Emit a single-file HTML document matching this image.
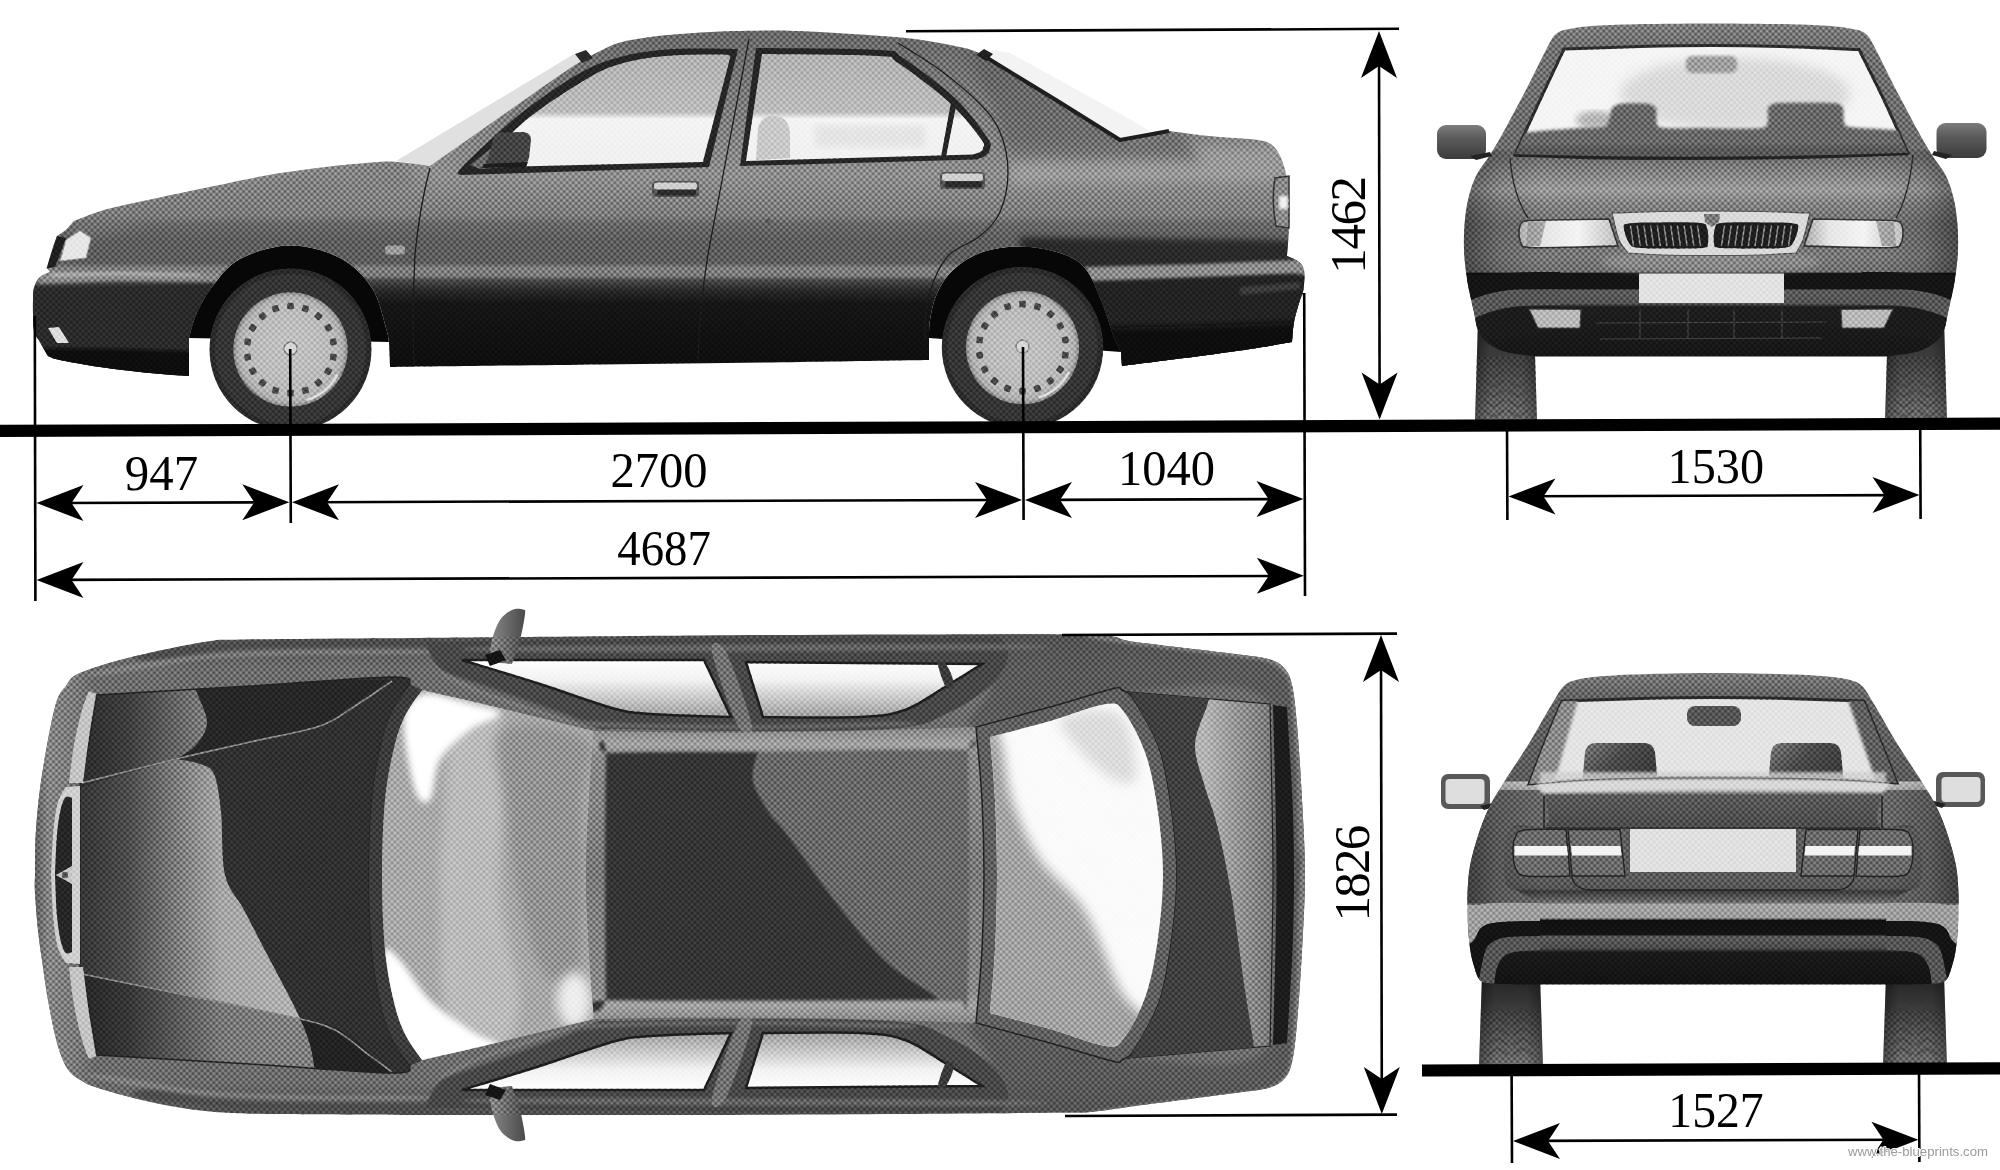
<!DOCTYPE html>
<html lang="en">
<head>
<meta charset="utf-8">
<title>Lancia Kappa blueprint</title>
<style>
html,body{margin:0;padding:0;background:#fff;overflow:hidden}
svg{display:block}
text{font-family:"Liberation Serif","DejaVu Serif",serif;fill:#000}
.wm{font-family:"Liberation Sans","DejaVu Sans",sans-serif;fill:#9a9a9a}
.ln{stroke:#000;stroke-width:2.6;fill:none}
</style>
</head>
<body>
<svg width="2000" height="1170" viewBox="0 0 2000 1170">
<defs>
<clipPath id="sBodyClip"><path d="M34,330C32.8,323 32.9,307.3 33,300C33.1,292.7 33.3,289.8 34.5,286C35.7,282.2 37.4,279.3 40,277C42.6,274.7 48.3,272.8 50,272L47,268C47.8,265 50.3,255.3 52,250C53.7,244.7 56.2,238.3 57,236L66,230L74,221C79,219.2 91.7,213.5 104,210C116.3,206.5 132,203.5 148,200C164,196.5 179.8,193.2 200,189C220.2,184.8 247.3,178.8 269,175C290.7,171.2 314.6,168.4 330,166.5C345.4,164.6 351.8,164.3 361.5,163.5C371.2,162.7 379.6,161.5 388,161.5C396.4,161.5 405,162.8 412,163.5C419,164.2 427,165.6 430,166C436.7,161.3 455,148.5 470,138C485,127.5 505,113.5 520,103C535,92.5 550,81.8 560,75C570,68.2 573.3,66 580,62C586.7,58 593.3,54.2 600,51C606.7,47.8 611.7,44.8 620,42.5C628.3,40.2 640,38.4 650,37C660,35.6 668.3,34.9 680,34C691.7,33.1 708.3,32 720,31.5C731.7,31 740,31 750,30.8C760,30.6 768.3,30.3 780,30.5C791.7,30.7 806.7,31.3 820,32C833.3,32.7 846.7,33.6 860,34.5C873.3,35.4 889.2,36.5 900,37.5C910.8,38.5 915.8,39.1 925,40.5C934.2,41.9 945.8,43.8 955,46C964.2,48.2 969.2,48.3 980,53.5C990.8,58.7 1007.3,69.2 1020,77C1032.7,84.8 1044.3,92.5 1056,100C1067.7,107.5 1079.3,115.3 1090,122C1100.7,128.7 1115,137 1120,140C1124.2,139.3 1136.8,137.5 1145,136C1153.2,134.5 1165,131.8 1169,131C1173.3,131.6 1186.5,133.5 1195,134.5C1203.5,135.5 1209.5,136.1 1220,137C1230.5,137.9 1249.3,138.7 1258,140C1266.7,141.3 1268.3,142.3 1272,145C1275.7,147.7 1277.7,151.2 1280,156C1282.3,160.8 1284.5,166.7 1286,174C1287.5,181.3 1288.5,191 1289,200C1289.5,209 1289.3,218.7 1289,228C1288.7,237.3 1287.3,251.3 1287,256C1288.5,256.7 1293.5,258.5 1296,260C1298.5,261.5 1300.6,262.7 1302,265C1303.4,267.3 1304.3,269.5 1304.5,274C1304.7,278.5 1303.8,287.7 1303,292C1302.2,296.3 1301.5,295 1300,300C1298.5,305 1295.3,315 1294,322C1292.7,329 1292.3,338.7 1292,342C1285,343.2 1265.3,346.7 1250,349C1234.7,351.3 1215,354 1200,356C1185,358 1173,359.3 1160,361C1147,362.7 1128.3,365.2 1122,366L1121,352C1119.7,349 1116.3,342.7 1113,334C1109.7,325.3 1105.7,311 1101,300C1096.3,289 1091.8,275.8 1085,268C1078.2,260.2 1070.8,256.6 1060,253C1049.2,249.4 1033.3,246.5 1020,246.5C1006.7,246.5 991.5,248.8 980,253C968.5,257.2 958.3,264.8 951,272C943.7,279.2 939.5,288 936,296C932.5,304 931.2,313 930,320C928.8,327 929.2,335 929,338L929,360C907.5,360.3 854.8,361.2 800,362C745.2,362.8 668.3,363.7 600,364.5C531.7,365.3 425,366.6 390,367L389,342C388.5,339.7 388.8,337 386,328C383.2,319 379.7,299.7 372,288C364.3,276.3 353.7,265.1 340,258C326.3,250.9 306.7,245.3 290,245.5C273.3,245.7 253,252.1 240,259C227,265.9 219.3,277.7 212,287C204.7,296.3 199.8,306.5 196,315C192.2,323.5 190.2,334.2 189,338L189,376C182.5,375.5 164.8,374.5 150,373C135.2,371.5 115,369.2 100,367C85,364.8 68.7,361.8 60,360C51.3,358.2 50,356.7 48,356C46.7,353.7 42.3,346.3 40,342C37.7,337.7 35.2,337 34,330Z"/></clipPath><linearGradient id="sBodyG" x1="0" y1="30" x2="0" y2="376" gradientUnits="userSpaceOnUse"><stop offset="0" stop-color="#686868"/><stop offset="0.087" stop-color="#707070"/><stop offset="0.39" stop-color="#8a8a8a"/><stop offset="0.42" stop-color="#8e8e8e"/><stop offset="0.535" stop-color="#7c7c7c"/><stop offset="0.56" stop-color="#686868"/><stop offset="0.607" stop-color="#5e5e5e"/><stop offset="0.673" stop-color="#5e5e5e"/><stop offset="0.688" stop-color="#7e7e7e"/><stop offset="0.711" stop-color="#7a7a7a"/><stop offset="0.7225" stop-color="#4a4a4a"/><stop offset="0.751" stop-color="#2a2a2a"/><stop offset="0.79" stop-color="#151515"/><stop offset="1" stop-color="#0c0c0c"/></linearGradient><filter id="b3" x="-10%" y="-10%" width="120%" height="120%"><feGaussianBlur stdDeviation="3"/></filter><filter id="b2" x="-10%" y="-10%" width="120%" height="120%"><feGaussianBlur stdDeviation="1.6"/></filter><filter id="b6" x="-20%" y="-20%" width="140%" height="140%"><feGaussianBlur stdDeviation="6"/></filter><linearGradient id="sGlassG" x1="0" y1="54" x2="0" y2="170" gradientUnits="userSpaceOnUse"><stop offset="0" stop-color="#b2b2b2"/><stop offset="0.5" stop-color="#bcbcbc"/><stop offset="0.56" stop-color="#f4f4f4"/><stop offset="1" stop-color="#f0f0f0"/></linearGradient><radialGradient id="sHub" cx="0.5" cy="0.5" r="0.5" gradientUnits="objectBoundingBox"><stop offset="0" stop-color="#c2c2c2"/><stop offset="0.8" stop-color="#bababa"/><stop offset="0.93" stop-color="#adadad"/><stop offset="1" stop-color="#888"/></radialGradient><linearGradient id="fTire" x1="0" y1="0" x2="0" y2="1" gradientUnits="objectBoundingBox"><stop offset="0" stop-color="#282828"/><stop offset="0.35" stop-color="#3c3c3c"/><stop offset="0.75" stop-color="#585858"/><stop offset="1" stop-color="#6c6c6c"/></linearGradient><linearGradient id="fTireH" x1="0" y1="0" x2="1" y2="0" gradientUnits="objectBoundingBox"><stop offset="0" stop-color="#000" stop-opacity="0.35"/><stop offset="0.25" stop-color="#000" stop-opacity="0"/><stop offset="0.75" stop-color="#000" stop-opacity="0"/><stop offset="1" stop-color="#000" stop-opacity="0.3"/></linearGradient><clipPath id="fBodyClip"><path d="M1711,23.5C1690.7,23.5 1668.5,23.7 1650,24C1631.5,24.3 1613,24.8 1600,25.5C1587,26.2 1579.3,27.1 1572,28.5C1564.7,29.9 1560.5,30.1 1556,34C1551.5,37.9 1549.3,44 1545,52C1540.7,60 1536.8,68.8 1530,82C1523.2,95.2 1510.7,118.8 1504,131C1497.3,143.2 1494.7,147.5 1490,155C1485.3,162.5 1479.7,168.5 1476,176C1472.3,183.5 1469.9,191.8 1468,200C1466.1,208.2 1465.2,216.7 1464.5,225C1463.8,233.3 1463.8,242.2 1464,250C1464.2,257.8 1465.2,265.3 1466,272C1466.8,278.7 1467.7,283.3 1469,290C1470.3,296.7 1472.5,305.3 1474,312C1475.5,318.7 1475.7,324.8 1478,330C1480.3,335.2 1483.3,339.3 1488,343C1492.7,346.7 1498,349.8 1506,352C1514,354.2 1531,355.8 1536,356.5L1886,356.5C1891,355.8 1908,354.2 1916,352C1924,349.8 1929.3,346.7 1934,343C1938.7,339.3 1941.7,335.2 1944,330C1946.3,324.8 1946.5,318.7 1948,312C1949.5,305.3 1951.7,296.7 1953,290C1954.3,283.3 1955.2,278.7 1956,272C1956.8,265.3 1957.8,257.8 1958,250C1958.2,242.2 1958.2,233.3 1957.5,225C1956.8,216.7 1955.9,208.2 1954,200C1952.1,191.8 1949.7,183.5 1946,176C1942.3,168.5 1936.7,162.5 1932,155C1927.3,147.5 1924.7,143.2 1918,131C1911.3,118.8 1898.8,95.2 1892,82C1885.2,68.8 1881.3,60 1877,52C1872.7,44 1870.5,37.9 1866,34C1861.5,30.1 1857.3,29.9 1850,28.5C1842.7,27.1 1835,26.2 1822,25.5C1809,24.8 1790.5,24.3 1772,24C1753.5,23.7 1731.3,23.5 1711,23.5Z"/></clipPath><linearGradient id="fBodyG" x1="0" y1="23" x2="0" y2="357" gradientUnits="userSpaceOnUse"><stop offset="0" stop-color="#7e7e7e"/><stop offset="0.06" stop-color="#727272"/><stop offset="0.4" stop-color="#6c6c6c"/><stop offset="0.44" stop-color="#808080"/><stop offset="0.5" stop-color="#9a9a9a"/><stop offset="0.54" stop-color="#848484"/><stop offset="0.6" stop-color="#727272"/><stop offset="0.7" stop-color="#787878"/><stop offset="0.745" stop-color="#707070"/><stop offset="0.75" stop-color="#141414"/><stop offset="0.795" stop-color="#141414"/><stop offset="0.8" stop-color="#5a5a5a"/><stop offset="0.84" stop-color="#545454"/><stop offset="0.85" stop-color="#1e1e1e"/><stop offset="1" stop-color="#161616"/></linearGradient><linearGradient id="fSideSh" x1="1464" y1="0" x2="1958" y2="0" gradientUnits="userSpaceOnUse"><stop offset="0" stop-color="#000" stop-opacity="0.38"/><stop offset="0.07" stop-color="#000" stop-opacity="0.12"/><stop offset="0.16" stop-color="#000" stop-opacity="0"/><stop offset="0.84" stop-color="#000" stop-opacity="0"/><stop offset="0.93" stop-color="#000" stop-opacity="0.12"/><stop offset="1" stop-color="#000" stop-opacity="0.38"/></linearGradient><clipPath id="fGlassClip"><path d="M1564,49C1576.7,48.6 1615.5,47.1 1640,46.5C1664.5,45.9 1687.3,45.5 1711,45.5C1734.7,45.5 1757.3,45.8 1782,46.5C1806.7,47.2 1846.2,49 1859,49.5C1863.2,57.9 1875.8,82.8 1884,100C1892.2,117.2 1904,144.2 1908,153C1893.3,153.7 1852.8,156.1 1820,157C1787.2,157.9 1747.7,158.3 1711,158.5C1674.3,158.7 1632.7,158.7 1600,158C1567.3,157.3 1529.2,155.1 1515,154.5C1519.2,145.4 1531.8,117.6 1540,100C1548.2,82.4 1560,57.5 1564,49Z"/></clipPath><linearGradient id="fHL" x1="0" y1="0" x2="1" y2="0" gradientUnits="objectBoundingBox"><stop offset="0" stop-color="#aaa"/><stop offset="0.25" stop-color="#e6e6e6"/><stop offset="0.6" stop-color="#f4f4f4"/><stop offset="1" stop-color="#c0c0c0"/></linearGradient><linearGradient id="fMir" x1="0" y1="0" x2="0" y2="1" gradientUnits="objectBoundingBox"><stop offset="0" stop-color="#7c7c7c"/><stop offset="0.4" stop-color="#5a5a5a"/><stop offset="1" stop-color="#3c3c3c"/></linearGradient><linearGradient id="tMir" x1="0" y1="0" x2="1" y2="0" gradientUnits="objectBoundingBox"><stop offset="0" stop-color="#8a8a8a"/><stop offset="0.5" stop-color="#6a6a6a"/><stop offset="1" stop-color="#4a4a4a"/></linearGradient><clipPath id="tBodyClip"><path d="M35,875C35.2,864.7 34.8,846.7 36,830C37.2,813.3 38.8,795.5 42,775C45.2,754.5 51,721.8 55,707C59,692.2 61.8,691.7 66,686C70.2,680.3 69,677.8 80,673C91,668.2 110.8,662.2 132,657C153.2,651.8 188.2,644.4 207,641.5C225.8,638.6 209.5,640.1 245,639.5C280.5,638.9 374.2,638.4 420,638C465.8,637.6 473.3,637.4 520,637C566.7,636.6 636.7,635.9 700,635.5C763.3,635.1 835,634.6 900,634.5C965,634.4 1050.8,633.8 1090,635C1129.2,636.2 1110.8,638.8 1135,642C1159.2,645.2 1212.8,651.2 1235,654C1257.2,656.8 1259.8,656.7 1268,659C1276.2,661.3 1280,663.7 1284,668C1288,672.3 1289.8,675.5 1292,685C1294.2,694.5 1295.3,705.8 1297,725C1298.7,744.2 1300.7,775 1302,800C1303.3,825 1305,850 1305,875C1305,900 1303.3,925.3 1302,950C1300.7,974.7 1298.7,1004.3 1297,1023C1295.3,1041.7 1294.2,1052.7 1292,1062C1289.8,1071.3 1288,1074.7 1284,1079C1280,1083.3 1276.2,1085.7 1268,1088C1259.8,1090.3 1257.2,1090 1235,1093C1212.8,1096 1159.2,1102.8 1135,1106C1110.8,1109.2 1102.5,1110.9 1090,1112C1077.5,1113.1 1091.7,1112.2 1060,1112.5C1028.3,1112.8 960,1113.6 900,1114C840,1114.4 763.3,1114.8 700,1115C636.7,1115.2 566.7,1115 520,1115C473.3,1115 461.7,1115.2 420,1115C378.3,1114.8 304.2,1114.5 270,1114C235.8,1113.5 231.7,1113.3 215,1112C198.3,1110.7 184.2,1108.5 170,1106C155.8,1103.5 142.5,1100.2 130,1097C117.5,1093.8 103,1089.7 95,1087C87,1084.3 86.2,1083.5 82,1081C77.8,1078.5 73.3,1075.8 70,1072C66.7,1068.2 64.5,1064.2 62,1058C59.5,1051.8 57.3,1044.7 55,1035C52.7,1025.3 50.2,1012.5 48,1000C45.8,987.5 43.7,971.7 42,960C40.3,948.3 39.2,941.3 38,930C36.8,918.7 35.5,901.2 35,892C34.5,882.8 34.8,885.3 35,875Z"/></clipPath><linearGradient id="tBodyG" x1="0" y1="635" x2="0" y2="1115" gradientUnits="userSpaceOnUse"><stop offset="0" stop-color="#4c4c4c"/><stop offset="0.03" stop-color="#5e5e5e"/><stop offset="0.07" stop-color="#6c6c6c"/><stop offset="0.5" stop-color="#707070"/><stop offset="0.93" stop-color="#6c6c6c"/><stop offset="0.97" stop-color="#5e5e5e"/><stop offset="1" stop-color="#4c4c4c"/></linearGradient><linearGradient id="tBump" x1="33" y1="0" x2="95" y2="0" gradientUnits="userSpaceOnUse"><stop offset="0" stop-color="#5a5a5a"/><stop offset="0.25" stop-color="#858585"/><stop offset="0.7" stop-color="#7a7a7a"/><stop offset="1" stop-color="#6a6a6a"/></linearGradient><clipPath id="tHoodClip"><path d="M80,875C80,844.7 80,799.2 80,784C80.7,781.7 82.2,779 84,770C85.8,761 88.8,742.5 91,730C93.2,717.5 96,700.8 97,695C122.5,693.5 200.8,689 250,686C299.2,683 365.3,677.3 392,677C418.7,676.7 407,682.8 410,684C407,688.7 396.8,701.8 392,712C387.2,722.2 384.3,730.3 381,745C377.7,759.7 374,778.3 372,800C370,821.7 369,850 369,875C369,900 370,928.3 372,950C374,971.7 377.7,990.3 381,1005C384.3,1019.7 387.2,1027.8 392,1038C396.8,1048.2 407,1061.3 410,1066C407,1067.2 418.7,1073.3 392,1073C365.3,1072.7 299.2,1067 250,1064C200.8,1061 122.5,1056.5 97,1055C96,1049.2 93.2,1032.5 91,1020C88.8,1007.5 85.8,989 84,980C82.2,971 80.7,968.3 80,966C80,950.8 80,905.3 80,875Z"/></clipPath><linearGradient id="tHoodL" x1="85" y1="0" x2="300" y2="0" gradientUnits="userSpaceOnUse"><stop offset="0" stop-color="#383838"/><stop offset="0.2" stop-color="#4c4c4c"/><stop offset="0.44" stop-color="#7e7e7e"/><stop offset="0.63" stop-color="#a6a6a6"/><stop offset="1" stop-color="#b2b2b2"/></linearGradient><clipPath id="tWsClip"><path d="M382,875C382,850 383,821.2 385,800C387,778.8 390.7,762 394,748C397.3,734 400.3,725.7 405,716C409.7,706.3 419.2,694.3 422,690C435,693 471.3,701.2 500,708C528.7,714.8 578.3,727.2 594,731C593.2,742.5 590.3,776 589,800C587.7,824 586,850 586,875C586,900 587.7,926 589,950C590.3,974 593.2,1007.5 594,1019C578.3,1022.8 528.7,1035.2 500,1042C471.3,1048.8 435,1057 422,1060C419.2,1055.7 409.7,1043.7 405,1034C400.3,1024.3 397.3,1016 394,1002C390.7,988 387,971.2 385,950C383,928.8 382,900 382,875Z"/></clipPath><linearGradient id="tWinU" x1="0" y1="660" x2="0" y2="718" gradientUnits="userSpaceOnUse"><stop offset="0" stop-color="#fff"/><stop offset="0.35" stop-color="#f2f2f2"/><stop offset="1" stop-color="#9c9c9c"/></linearGradient><linearGradient id="tWinL" x1="0" y1="1090" x2="0" y2="1032" gradientUnits="userSpaceOnUse"><stop offset="0" stop-color="#fff"/><stop offset="0.35" stop-color="#f2f2f2"/><stop offset="1" stop-color="#9c9c9c"/></linearGradient><clipPath id="tRoofClip"><path d="M586,875C586,850 587.7,824 589,800C590.3,776 593.2,742.5 594,731C611.7,731.2 657.3,732.5 700,732.5C742.7,732.5 804,731.9 850,731C896,730.1 955,727.7 976,727C977,739.2 980.7,775.3 982,800C983.3,824.7 984,850 984,875C984,900 983.3,925.3 982,950C980.7,974.7 977,1010.8 976,1023C955,1022.3 896,1019.9 850,1019C804,1018.1 742.7,1017.5 700,1017.5C657.3,1017.5 611.7,1018.8 594,1019C593.2,1007.5 590.3,974 589,950C587.7,926 586,900 586,875Z"/></clipPath><linearGradient id="tRoofG" x1="0" y1="730" x2="0" y2="1020" gradientUnits="userSpaceOnUse"><stop offset="0" stop-color="#8a8a8a"/><stop offset="0.05" stop-color="#a2a2a2"/><stop offset="0.09" stop-color="#8a8a8a"/><stop offset="0.5" stop-color="#7a7a7a"/><stop offset="0.91" stop-color="#8a8a8a"/><stop offset="0.95" stop-color="#a2a2a2"/><stop offset="1" stop-color="#8a8a8a"/></linearGradient><clipPath id="tRgClip"><path d="M984,875C984,850 983.3,824.7 982,800C980.7,775.3 977,739.2 976,727C988.3,723.7 1027.3,713.3 1050,707C1072.7,700.7 1100,691.8 1112,689C1124,686.2 1118.2,688 1122,690C1125.8,692 1128.7,691 1135,701C1141.3,711 1153.8,731.5 1160,750C1166.2,768.5 1169.2,791.2 1172,812C1174.8,832.8 1177,854 1177,875C1177,896 1174.8,917.2 1172,938C1169.2,958.8 1166.2,981.5 1160,1000C1153.8,1018.5 1141.3,1039 1135,1049C1128.7,1059 1125.8,1058 1122,1060C1118.2,1062 1124,1063.8 1112,1061C1100,1058.2 1072.7,1049.3 1050,1043C1027.3,1036.7 988.3,1026.3 976,1023C977,1010.8 980.7,974.7 982,950C983.3,925.3 984,900 984,875Z"/></clipPath><clipPath id="tRgiClip"><path d="M997,875C997,850 996.2,823 995,800C993.8,777 990.8,747.5 990,737C1000,734.3 1030.7,726.5 1050,721C1069.3,715.5 1093.7,705.5 1106,704C1118.3,702.5 1117.3,703.5 1124,712C1130.7,720.5 1140.3,738.3 1146,755C1151.7,771.7 1155.2,792 1158,812C1160.8,832 1163,854 1163,875C1163,896 1160.8,918 1158,938C1155.2,958 1151.7,978.3 1146,995C1140.3,1011.7 1130.7,1029.5 1124,1038C1117.3,1046.5 1118.3,1047.5 1106,1046C1093.7,1044.5 1069.3,1034.5 1050,1029C1030.7,1023.5 1000,1015.7 990,1013C990.8,1002.5 993.8,973 995,950C996.2,927 997,900 997,875Z"/></clipPath><clipPath id="tTrClip"><path d="M1177,875C1177,854 1174.8,832.8 1172,812C1169.2,791.2 1166.2,768.5 1160,750C1153.8,731.5 1140.3,710.7 1135,701C1129.7,691.3 1129.2,693.5 1128,692C1140,693 1176.3,696 1200,698C1223.7,700 1258.3,703 1270,704C1270.3,720 1271.5,771.5 1272,800C1272.5,828.5 1273,850 1273,875C1273,900 1272.5,921.5 1272,950C1271.5,978.5 1270.3,1030 1270,1046C1258.3,1047 1223.7,1050 1200,1052C1176.3,1054 1140,1057 1128,1058C1129.2,1056.5 1129.7,1058.7 1135,1049C1140.3,1039.3 1153.8,1018.5 1160,1000C1166.2,981.5 1169.2,958.8 1172,938C1174.8,917.2 1177,896 1177,875Z"/></clipPath><linearGradient id="tTrG" x1="1205" y1="0" x2="1270" y2="0" gradientUnits="userSpaceOnUse"><stop offset="0" stop-color="#b4b4b4"/><stop offset="0.45" stop-color="#989898"/><stop offset="1" stop-color="#787878"/></linearGradient><linearGradient id="rTire" x1="0" y1="0" x2="0" y2="1" gradientUnits="objectBoundingBox"><stop offset="0" stop-color="#222"/><stop offset="0.3" stop-color="#363636"/><stop offset="0.7" stop-color="#565656"/><stop offset="1" stop-color="#6c6c6c"/></linearGradient><clipPath id="rBodyClip"><path d="M1713,673C1692,673 1668,673.5 1650,674C1632,674.5 1617,675.1 1605,676C1593,676.9 1584.8,677.8 1578,679.5C1571.2,681.2 1568.3,681.9 1564,686C1559.7,690.1 1558,694.2 1552,704C1546,713.8 1536,732 1528,745C1520,758 1510.7,771.2 1504,782C1497.3,792.8 1492.3,801 1488,810C1483.7,819 1481,826.7 1478,836C1475,845.3 1471.8,856 1470,866C1468.2,876 1467.8,886.2 1467.5,896C1467.2,905.8 1467.6,916.3 1468,925C1468.4,933.7 1469,941.2 1470,948C1471,954.8 1472.2,960.5 1474,966C1475.8,971.5 1476.7,978 1481,981C1485.3,984 1489.8,983.4 1500,984C1510.2,984.6 1535,984.4 1542,984.5L1884,984.5C1891,984.4 1915.8,984.6 1926,984C1936.2,983.4 1940.7,984 1945,981C1949.3,978 1950.2,971.5 1952,966C1953.8,960.5 1955,954.8 1956,948C1957,941.2 1957.6,933.7 1958,925C1958.4,916.3 1958.8,905.8 1958.5,896C1958.2,886.2 1957.8,876 1956,866C1954.2,856 1951,845.3 1948,836C1945,826.7 1942.3,819 1938,810C1933.7,801 1928.7,792.8 1922,782C1915.3,771.2 1906,758 1898,745C1890,732 1880,713.8 1874,704C1868,694.2 1866.3,690.1 1862,686C1857.7,681.9 1854.8,681.2 1848,679.5C1841.2,677.8 1833,676.9 1821,676C1809,675.1 1794,674.5 1776,674C1758,673.5 1734,673 1713,673Z"/></clipPath><linearGradient id="rBodyG" x1="0" y1="673" x2="0" y2="985" gradientUnits="userSpaceOnUse"><stop offset="0" stop-color="#7a7a7a"/><stop offset="0.07" stop-color="#646464"/><stop offset="0.3" stop-color="#5c5c5c"/><stop offset="0.345" stop-color="#5c5c5c"/><stop offset="0.35" stop-color="#c4c4c4"/><stop offset="0.378" stop-color="#a8a8a8"/><stop offset="0.392" stop-color="#5a5a5a"/><stop offset="0.49" stop-color="#4c4c4c"/><stop offset="0.5" stop-color="#626262"/><stop offset="0.655" stop-color="#5c5c5c"/><stop offset="0.69" stop-color="#565656"/><stop offset="0.7" stop-color="#3c3c3c"/><stop offset="0.735" stop-color="#6c6c6c"/><stop offset="0.742" stop-color="#a2a2a2"/><stop offset="0.785" stop-color="#9c9c9c"/><stop offset="0.793" stop-color="#101010"/><stop offset="0.838" stop-color="#141414"/><stop offset="0.845" stop-color="#5a5a5a"/><stop offset="0.882" stop-color="#4c4c4c"/><stop offset="0.895" stop-color="#1a1a1a"/><stop offset="1" stop-color="#121212"/></linearGradient><linearGradient id="rSideSh" x1="1467" y1="0" x2="1959" y2="0" gradientUnits="userSpaceOnUse"><stop offset="0" stop-color="#000" stop-opacity="0.4"/><stop offset="0.06" stop-color="#000" stop-opacity="0.15"/><stop offset="0.15" stop-color="#000" stop-opacity="0"/><stop offset="0.85" stop-color="#000" stop-opacity="0"/><stop offset="0.94" stop-color="#000" stop-opacity="0.15"/><stop offset="1" stop-color="#000" stop-opacity="0.4"/></linearGradient><clipPath id="rGlassClip"><path d="M1562,701C1575,700.6 1614.8,699.1 1640,698.5C1665.2,697.9 1688.7,697.5 1713,697.5C1737.3,697.5 1760.8,697.9 1786,698.5C1811.2,699.1 1851,700.6 1864,701C1866.7,707.5 1874.5,726.3 1880,740C1885.5,753.7 1894.2,775.8 1897,783C1884.2,782.2 1850.7,779.4 1820,778.5C1789.3,777.6 1748.7,777.5 1713,777.5C1677.3,777.5 1636.7,777.4 1606,778.5C1575.3,779.6 1541.8,783.1 1529,784C1531.7,777 1539.5,755.8 1545,742C1550.5,728.2 1559.2,707.8 1562,701Z"/></clipPath><linearGradient id="rHead" x1="0" y1="0" x2="1" y2="0.6" gradientUnits="objectBoundingBox"><stop offset="0" stop-color="#7a7a7a"/><stop offset="0.5" stop-color="#4a4a4a"/><stop offset="1" stop-color="#3a3a3a"/></linearGradient><pattern id="ht" patternUnits="userSpaceOnUse" width="4.2" height="4.2" patternTransform="rotate(45)"><circle cx="1.05" cy="1.05" r="1.05" fill="#000" opacity="0.34"/><circle cx="3.15" cy="3.15" r="1.05" fill="#fff" opacity="0.34"/></pattern>
<path id="ah" d="M0,0 L47,-18 L35,0 L47,18 Z" fill="#000"/>
</defs>
<rect width="2000" height="1170" fill="#fff"/>

<g id="side">
<polygon points="396,161 574,54 590,60 432,166" fill="#e0e0e0"/>
<polygon points="992,50 1010,53 1128,118 1150,131 1122,139 984,56" fill="#f3f3f3"/>
<path d="M189,338C190.2,334.2 192.2,323.5 196,315C199.8,306.5 204.7,296.3 212,287C219.3,277.7 227,265.9 240,259C253,252.1 273.3,245.7 290,245.5C306.7,245.3 326.3,250.9 340,258C353.7,265.1 364.3,276.3 372,288C379.7,299.7 383.2,319 386,328C388.8,337 388.5,339.7 389,342L189,338Z" fill="#070707" />
<path d="M929,338C929.2,335 928.8,327 930,320C931.2,313 932.5,304 936,296C939.5,288 943.7,279.2 951,272C958.3,264.8 968.5,257.2 980,253C991.5,248.8 1006.7,246.5 1020,246.5C1033.3,246.5 1049.2,249.4 1060,253C1070.8,256.6 1078.2,260.2 1085,268C1091.8,275.8 1096.3,289 1101,300C1105.7,311 1109.7,325.3 1113,334C1116.3,342.7 1119.7,349 1121,352L929,338Z" fill="#070707" />
<path d="M34,330C32.8,323 32.9,307.3 33,300C33.1,292.7 33.3,289.8 34.5,286C35.7,282.2 37.4,279.3 40,277C42.6,274.7 48.3,272.8 50,272L47,268C47.8,265 50.3,255.3 52,250C53.7,244.7 56.2,238.3 57,236L66,230L74,221C79,219.2 91.7,213.5 104,210C116.3,206.5 132,203.5 148,200C164,196.5 179.8,193.2 200,189C220.2,184.8 247.3,178.8 269,175C290.7,171.2 314.6,168.4 330,166.5C345.4,164.6 351.8,164.3 361.5,163.5C371.2,162.7 379.6,161.5 388,161.5C396.4,161.5 405,162.8 412,163.5C419,164.2 427,165.6 430,166C436.7,161.3 455,148.5 470,138C485,127.5 505,113.5 520,103C535,92.5 550,81.8 560,75C570,68.2 573.3,66 580,62C586.7,58 593.3,54.2 600,51C606.7,47.8 611.7,44.8 620,42.5C628.3,40.2 640,38.4 650,37C660,35.6 668.3,34.9 680,34C691.7,33.1 708.3,32 720,31.5C731.7,31 740,31 750,30.8C760,30.6 768.3,30.3 780,30.5C791.7,30.7 806.7,31.3 820,32C833.3,32.7 846.7,33.6 860,34.5C873.3,35.4 889.2,36.5 900,37.5C910.8,38.5 915.8,39.1 925,40.5C934.2,41.9 945.8,43.8 955,46C964.2,48.2 969.2,48.3 980,53.5C990.8,58.7 1007.3,69.2 1020,77C1032.7,84.8 1044.3,92.5 1056,100C1067.7,107.5 1079.3,115.3 1090,122C1100.7,128.7 1115,137 1120,140C1124.2,139.3 1136.8,137.5 1145,136C1153.2,134.5 1165,131.8 1169,131C1173.3,131.6 1186.5,133.5 1195,134.5C1203.5,135.5 1209.5,136.1 1220,137C1230.5,137.9 1249.3,138.7 1258,140C1266.7,141.3 1268.3,142.3 1272,145C1275.7,147.7 1277.7,151.2 1280,156C1282.3,160.8 1284.5,166.7 1286,174C1287.5,181.3 1288.5,191 1289,200C1289.5,209 1289.3,218.7 1289,228C1288.7,237.3 1287.3,251.3 1287,256C1288.5,256.7 1293.5,258.5 1296,260C1298.5,261.5 1300.6,262.7 1302,265C1303.4,267.3 1304.3,269.5 1304.5,274C1304.7,278.5 1303.8,287.7 1303,292C1302.2,296.3 1301.5,295 1300,300C1298.5,305 1295.3,315 1294,322C1292.7,329 1292.3,338.7 1292,342C1285,343.2 1265.3,346.7 1250,349C1234.7,351.3 1215,354 1200,356C1185,358 1173,359.3 1160,361C1147,362.7 1128.3,365.2 1122,366L1121,352C1119.7,349 1116.3,342.7 1113,334C1109.7,325.3 1105.7,311 1101,300C1096.3,289 1091.8,275.8 1085,268C1078.2,260.2 1070.8,256.6 1060,253C1049.2,249.4 1033.3,246.5 1020,246.5C1006.7,246.5 991.5,248.8 980,253C968.5,257.2 958.3,264.8 951,272C943.7,279.2 939.5,288 936,296C932.5,304 931.2,313 930,320C928.8,327 929.2,335 929,338L929,360C907.5,360.3 854.8,361.2 800,362C745.2,362.8 668.3,363.7 600,364.5C531.7,365.3 425,366.6 390,367L389,342C388.5,339.7 388.8,337 386,328C383.2,319 379.7,299.7 372,288C364.3,276.3 353.7,265.1 340,258C326.3,250.9 306.7,245.3 290,245.5C273.3,245.7 253,252.1 240,259C227,265.9 219.3,277.7 212,287C204.7,296.3 199.8,306.5 196,315C192.2,323.5 190.2,334.2 189,338L189,376C182.5,375.5 164.8,374.5 150,373C135.2,371.5 115,369.2 100,367C85,364.8 68.7,361.8 60,360C51.3,358.2 50,356.7 48,356C46.7,353.7 42.3,346.3 40,342C37.7,337.7 35.2,337 34,330Z" fill="url(#sBodyG)"/>
<g clip-path="url(#sBodyClip)">
<polygon points="60,222 200,186 400,156 420,185 300,200 150,222 80,240" fill="#7a7a7a" opacity="0.5" filter="url(#b6)"/>
<polygon points="28,289 120,286 222,284 222,380 28,380" fill="#2a2a2a" filter="url(#b2)"/>
<polygon points="28,348 120,349 222,352 222,380 28,380" fill="#0a0a0a" filter="url(#b2)"/>
<polygon points="44,273 120,271 222,273 222,282 120,281 36,284" fill="#8a8a8a" filter="url(#b2)"/>
<polygon points="52,273 120,272 200,274 200,276 120,275 50,277" fill="#b0b0b0" filter="url(#b2)"/>
<polygon points="1020,237 1100,238 1250,239.5 1295,241 1310,380 1020,380" fill="#2b2b2b" filter="url(#b3)"/>
<polygon points="1010,146 1280,146 1292,180 1010,184" fill="#a4a4a4" opacity="0.6" filter="url(#b6)"/>
<polygon points="1084,267 1200,264 1298,260 1306,273 1200,277 1090,281" fill="#8c8c8c" filter="url(#b2)"/>
<polygon points="1092,283 1200,279 1310,275 1310,380 1092,380" fill="#222" filter="url(#b2)"/>
<polygon points="1100,328 1200,326 1310,322 1310,380 1100,380" fill="#0c0c0c" filter="url(#b3)"/>
<polygon points="1240,287 1300,282 1300,289 1240,295" fill="#505050" opacity="0.6" filter="url(#b2)"/>
<polygon points="960,40 1130,140 1180,130 1200,160 1010,160 990,100" fill="#5e5e5e" opacity="0.6" filter="url(#b6)"/>
</g>
<path d="M460,175C460.5,173.5 453,176.2 463,166C473,155.8 500.5,129.5 520,114C539.5,98.5 563.3,82.5 580,73C596.7,63.5 606.7,60.8 620,57C633.3,53.2 646.7,51.4 660,50C673.3,48.6 687,48.7 700,48.5C713,48.3 731.7,48.9 738,49L709,167L460,175Z" fill="#262626" />
<path d="M480,167.5C487.5,159.8 507.5,135.6 525,121C542.5,106.4 569.2,89.5 585,80C600.8,70.5 606.7,68 620,64C633.3,60 648,57.6 665,56C682,54.4 711.2,54.3 722,54.5C732.8,54.7 728.7,56.6 730,57C729.8,57.8 733.5,44.5 729,62C724.5,79.5 707.3,145.3 703,162L480,167.5Z" fill="url(#sGlassG)" />
<path d="M756,48C776.7,48.3 855.5,48.3 880,50C904.5,51.7 890.5,50 903,58C915.5,66 941,84.8 955,98C969,111.2 981.2,128.5 987,137C992.8,145.5 990.3,145.8 990,149C989.7,152.2 987.3,154.2 985,156C982.7,157.8 977.5,158.9 976,159.5L740,166L756,48Z" fill="#262626" />
<path d="M762,54C781.3,54.3 855.3,54.5 878,56C900.7,57.5 886,55.2 898,63C910,70.8 936.2,90.3 950,103C963.8,115.7 975.5,131.5 981,139C986.5,146.5 983.2,145.8 983,148C982.8,150.2 981.7,150.9 980,152C978.3,153.1 974.2,154.1 973,154.5L746,161L762,54Z" fill="url(#sGlassG)" />
<polygon points="951,102 956,106 946,157 941,157" fill="#262626"/>
<path d="M756,160 L758,128 Q762,114 776,116 Q790,118 790,135 L790,158 Z" fill="#c9c9c9"/>
<rect x="815" y="125" width="110" height="22" fill="#dcdcdc" opacity="0.6" filter="url(#b3)"/>
<polygon points="470,165 494,146 520,166 480,169" fill="#6a6a6a"/>
<path d="M493,140 Q493,133 500,132.5 L524,132 Q531,133 531,140 L529,158 Q528,164 520,164.5 L488,165 Q484,163 488,158 Z" fill="#444"/>
<polygon points="484,164 528,162 526,167 482,168" fill="#1c1c1c"/>
<polygon points="575,54 586,50 593,58 582,63" fill="#2a2a2a"/>
<polygon points="976,55 984,49 993,54 986,61" fill="#222"/>
<path d="M984,56 L1056,100 L1120,140 L1169,131" stroke="#1e1e1e" stroke-width="4" fill="none" stroke-linejoin="round"/>
<path d="M430,168 Q420,205 415,254 Q412,310 414,364" stroke="#1c1c1c" stroke-width="1.3" fill="none"/>
<path d="M749,39 L708,254 Q699,310 698,362" stroke="#1c1c1c" stroke-width="1.3" fill="none"/>
<path d="M898,43C905,47.5 926.3,59.8 940,70C953.7,80.2 970,93.7 980,104C990,114.3 995.3,120.7 1000,132C1004.7,143.3 1008,158.7 1008,172C1008,185.3 1004.7,201.3 1000,212C995.3,222.7 988.3,229 980,236C971.7,243 957.7,246.7 950,254C942.3,261.3 938,270.3 934,280C930,289.7 927.5,302 926,312C924.5,322 925.2,335.3 925,340" stroke="#1c1c1c" stroke-width="1.3" fill="none"/>
<rect x="652" y="181" width="47" height="16" rx="4" fill="#555"/>
<rect x="654" y="182.5" width="43" height="7.0" rx="3" fill="#cfcfcf"/>
<rect x="657" y="189.7" width="39" height="5.88" rx="2" fill="#2c2c2c"/>
<rect x="940" y="172" width="45" height="17" rx="4" fill="#555"/>
<rect x="942" y="173.5" width="41" height="7.5" rx="3" fill="#cfcfcf"/>
<rect x="945" y="181.25" width="37" height="6.3" rx="2" fill="#2c2c2c"/>
<rect x="385" y="245.5" width="20" height="9" rx="4" fill="#9c9c9c"/>
<circle cx="768" cy="221" r="2.2" fill="#555"/>
<polygon points="57,236 66,238 55,267 46.5,268.5" fill="#1e1e1e"/>
<polygon points="80,230.5 91,238 86,258 60,261 66,240" fill="#e6e6e6" stroke="#999" stroke-width="1"/>
<polygon points="48,328 59,327 69,343 57,343" fill="#dedede"/>
<path d="M1275,178 Q1271,200 1276,226 L1289,228 L1289,176 Z" fill="#8a8a8a" stroke="#333" stroke-width="1.5"/>
<rect x="1279" y="196" width="9" height="13" fill="#f2f2f2" filter="url(#b2)"/>
<circle cx="290.5" cy="349.5" r="81" fill="#353535"/>
<circle cx="290.5" cy="349.5" r="78" fill="none" stroke="#2a2a2a" stroke-width="5"/>
<circle cx="290.5" cy="349.5" r="57.2" fill="url(#sHub)"/>
<path d="M337.4728119400949,374.4758871402094 A53.2,53.2 0 0 1 306.93970410074724,400.09620666690216" stroke="#f0f0f0" stroke-width="2.4" fill="none" opacity="0.8"/>
<rect x="287.2" y="302.7" width="6.6" height="6.6" rx="1.5" fill="#484848" transform="rotate(0 290.5 306.0)"/>
<rect x="302.1" y="305.3" width="6.6" height="6.6" rx="1.5" fill="#484848" transform="rotate(20 305.4 308.6)"/>
<rect x="315.2" y="312.9" width="6.6" height="6.6" rx="1.5" fill="#484848" transform="rotate(40 318.5 316.2)"/>
<rect x="324.9" y="324.4" width="6.6" height="6.6" rx="1.5" fill="#484848" transform="rotate(60 328.2 327.8)"/>
<rect x="330.0" y="338.6" width="6.6" height="6.6" rx="1.5" fill="#484848" transform="rotate(80 333.3 341.9)"/>
<rect x="330.0" y="353.8" width="6.6" height="6.6" rx="1.5" fill="#484848" transform="rotate(100 333.3 357.1)"/>
<rect x="324.9" y="367.9" width="6.6" height="6.6" rx="1.5" fill="#484848" transform="rotate(120 328.2 371.2)"/>
<rect x="315.2" y="379.5" width="6.6" height="6.6" rx="1.5" fill="#484848" transform="rotate(140 318.5 382.8)"/>
<rect x="302.1" y="387.1" width="6.6" height="6.6" rx="1.5" fill="#484848" transform="rotate(160 305.4 390.4)"/>
<rect x="287.2" y="389.7" width="6.6" height="6.6" rx="1.5" fill="#484848" transform="rotate(180 290.5 393.0)"/>
<rect x="272.3" y="387.1" width="6.6" height="6.6" rx="1.5" fill="#484848" transform="rotate(200 275.6 390.4)"/>
<rect x="259.2" y="379.5" width="6.6" height="6.6" rx="1.5" fill="#484848" transform="rotate(220 262.5 382.8)"/>
<rect x="249.5" y="367.9" width="6.6" height="6.6" rx="1.5" fill="#484848" transform="rotate(240 252.8 371.2)"/>
<rect x="244.4" y="353.8" width="6.6" height="6.6" rx="1.5" fill="#484848" transform="rotate(260 247.7 357.1)"/>
<rect x="244.4" y="338.6" width="6.6" height="6.6" rx="1.5" fill="#484848" transform="rotate(280 247.7 341.9)"/>
<rect x="249.5" y="324.4" width="6.6" height="6.6" rx="1.5" fill="#484848" transform="rotate(300 252.8 327.8)"/>
<rect x="259.2" y="312.9" width="6.6" height="6.6" rx="1.5" fill="#484848" transform="rotate(320 262.5 316.2)"/>
<rect x="272.3" y="305.3" width="6.6" height="6.6" rx="1.5" fill="#484848" transform="rotate(340 275.6 308.6)"/>
<circle cx="290.5" cy="348.5" r="6.5" fill="#d8d8d8" stroke="#8a8a8a" stroke-width="1.5"/>
<circle cx="1022.5" cy="347.6" r="80.7" fill="#353535"/>
<circle cx="1022.5" cy="347.6" r="77.7" fill="none" stroke="#2a2a2a" stroke-width="5"/>
<circle cx="1022.5" cy="347.6" r="56.6" fill="url(#sHub)"/>
<path d="M1068.9430433843795,372.29420420253786 A52.6,52.6 0 0 1 1038.7542939041223,397.6255727571251" stroke="#f0f0f0" stroke-width="2.4" fill="none" opacity="0.8"/>
<rect x="1019.2" y="300.8" width="6.6" height="6.6" rx="1.5" fill="#484848" transform="rotate(0 1022.5 304.1)"/>
<rect x="1034.1" y="303.4" width="6.6" height="6.6" rx="1.5" fill="#484848" transform="rotate(20 1037.4 306.7)"/>
<rect x="1047.2" y="311.0" width="6.6" height="6.6" rx="1.5" fill="#484848" transform="rotate(40 1050.5 314.3)"/>
<rect x="1056.9" y="322.6" width="6.6" height="6.6" rx="1.5" fill="#484848" transform="rotate(60 1060.2 325.9)"/>
<rect x="1062.0" y="336.7" width="6.6" height="6.6" rx="1.5" fill="#484848" transform="rotate(80 1065.3 340.0)"/>
<rect x="1062.0" y="351.9" width="6.6" height="6.6" rx="1.5" fill="#484848" transform="rotate(100 1065.3 355.2)"/>
<rect x="1056.9" y="366.1" width="6.6" height="6.6" rx="1.5" fill="#484848" transform="rotate(120 1060.2 369.4)"/>
<rect x="1047.2" y="377.6" width="6.6" height="6.6" rx="1.5" fill="#484848" transform="rotate(140 1050.5 380.9)"/>
<rect x="1034.1" y="385.2" width="6.6" height="6.6" rx="1.5" fill="#484848" transform="rotate(160 1037.4 388.5)"/>
<rect x="1019.2" y="387.8" width="6.6" height="6.6" rx="1.5" fill="#484848" transform="rotate(180 1022.5 391.1)"/>
<rect x="1004.3" y="385.2" width="6.6" height="6.6" rx="1.5" fill="#484848" transform="rotate(200 1007.6 388.5)"/>
<rect x="991.2" y="377.6" width="6.6" height="6.6" rx="1.5" fill="#484848" transform="rotate(220 994.5 380.9)"/>
<rect x="981.5" y="366.1" width="6.6" height="6.6" rx="1.5" fill="#484848" transform="rotate(240 984.8 369.4)"/>
<rect x="976.4" y="351.9" width="6.6" height="6.6" rx="1.5" fill="#484848" transform="rotate(260 979.7 355.2)"/>
<rect x="976.4" y="336.7" width="6.6" height="6.6" rx="1.5" fill="#484848" transform="rotate(280 979.7 340.0)"/>
<rect x="981.5" y="322.6" width="6.6" height="6.6" rx="1.5" fill="#484848" transform="rotate(300 984.8 325.9)"/>
<rect x="991.2" y="311.0" width="6.6" height="6.6" rx="1.5" fill="#484848" transform="rotate(320 994.5 314.3)"/>
<rect x="1004.3" y="303.4" width="6.6" height="6.6" rx="1.5" fill="#484848" transform="rotate(340 1007.6 306.7)"/>
<circle cx="1022.5" cy="346.6" r="6.5" fill="#d8d8d8" stroke="#8a8a8a" stroke-width="1.5"/>
</g>

<g id="front">
<path d="M1478,320 L1534,320 L1537,421 L1475,421 Z" fill="url(#fTire)"/>
<path d="M1478,320 L1534,320 L1537,421 L1475,421 Z" fill="url(#fTireH)"/>
<path d="M1484,350 l10,7 l10,-7 M1508,350 l10,7 l10,-7" stroke="#3a3a3a" stroke-width="1.6" fill="none" opacity="0.55"/>
<path d="M1484,360 l10,7 l10,-7 M1508,360 l10,7 l10,-7" stroke="#3a3a3a" stroke-width="1.6" fill="none" opacity="0.55"/>
<path d="M1484,370 l10,7 l10,-7 M1508,370 l10,7 l10,-7" stroke="#3a3a3a" stroke-width="1.6" fill="none" opacity="0.55"/>
<path d="M1484,380 l10,7 l10,-7 M1508,380 l10,7 l10,-7" stroke="#3a3a3a" stroke-width="1.6" fill="none" opacity="0.55"/>
<path d="M1484,390 l10,7 l10,-7 M1508,390 l10,7 l10,-7" stroke="#3a3a3a" stroke-width="1.6" fill="none" opacity="0.55"/>
<path d="M1484,400 l10,7 l10,-7 M1508,400 l10,7 l10,-7" stroke="#3a3a3a" stroke-width="1.6" fill="none" opacity="0.55"/>
<path d="M1484,410 l10,7 l10,-7 M1508,410 l10,7 l10,-7" stroke="#3a3a3a" stroke-width="1.6" fill="none" opacity="0.55"/>
<path d="M1888,320 L1944,320 L1947,421 L1885,421 Z" fill="url(#fTire)"/>
<path d="M1888,320 L1944,320 L1947,421 L1885,421 Z" fill="url(#fTireH)"/>
<path d="M1894,350 l10,7 l10,-7 M1918,350 l10,7 l10,-7" stroke="#3a3a3a" stroke-width="1.6" fill="none" opacity="0.55"/>
<path d="M1894,360 l10,7 l10,-7 M1918,360 l10,7 l10,-7" stroke="#3a3a3a" stroke-width="1.6" fill="none" opacity="0.55"/>
<path d="M1894,370 l10,7 l10,-7 M1918,370 l10,7 l10,-7" stroke="#3a3a3a" stroke-width="1.6" fill="none" opacity="0.55"/>
<path d="M1894,380 l10,7 l10,-7 M1918,380 l10,7 l10,-7" stroke="#3a3a3a" stroke-width="1.6" fill="none" opacity="0.55"/>
<path d="M1894,390 l10,7 l10,-7 M1918,390 l10,7 l10,-7" stroke="#3a3a3a" stroke-width="1.6" fill="none" opacity="0.55"/>
<path d="M1894,400 l10,7 l10,-7 M1918,400 l10,7 l10,-7" stroke="#3a3a3a" stroke-width="1.6" fill="none" opacity="0.55"/>
<path d="M1894,410 l10,7 l10,-7 M1918,410 l10,7 l10,-7" stroke="#3a3a3a" stroke-width="1.6" fill="none" opacity="0.55"/>
<path d="M1711,23.5C1690.7,23.5 1668.5,23.7 1650,24C1631.5,24.3 1613,24.8 1600,25.5C1587,26.2 1579.3,27.1 1572,28.5C1564.7,29.9 1560.5,30.1 1556,34C1551.5,37.9 1549.3,44 1545,52C1540.7,60 1536.8,68.8 1530,82C1523.2,95.2 1510.7,118.8 1504,131C1497.3,143.2 1494.7,147.5 1490,155C1485.3,162.5 1479.7,168.5 1476,176C1472.3,183.5 1469.9,191.8 1468,200C1466.1,208.2 1465.2,216.7 1464.5,225C1463.8,233.3 1463.8,242.2 1464,250C1464.2,257.8 1465.2,265.3 1466,272C1466.8,278.7 1467.7,283.3 1469,290C1470.3,296.7 1472.5,305.3 1474,312C1475.5,318.7 1475.7,324.8 1478,330C1480.3,335.2 1483.3,339.3 1488,343C1492.7,346.7 1498,349.8 1506,352C1514,354.2 1531,355.8 1536,356.5L1886,356.5C1891,355.8 1908,354.2 1916,352C1924,349.8 1929.3,346.7 1934,343C1938.7,339.3 1941.7,335.2 1944,330C1946.3,324.8 1946.5,318.7 1948,312C1949.5,305.3 1951.7,296.7 1953,290C1954.3,283.3 1955.2,278.7 1956,272C1956.8,265.3 1957.8,257.8 1958,250C1958.2,242.2 1958.2,233.3 1957.5,225C1956.8,216.7 1955.9,208.2 1954,200C1952.1,191.8 1949.7,183.5 1946,176C1942.3,168.5 1936.7,162.5 1932,155C1927.3,147.5 1924.7,143.2 1918,131C1911.3,118.8 1898.8,95.2 1892,82C1885.2,68.8 1881.3,60 1877,52C1872.7,44 1870.5,37.9 1866,34C1861.5,30.1 1857.3,29.9 1850,28.5C1842.7,27.1 1835,26.2 1822,25.5C1809,24.8 1790.5,24.3 1772,24C1753.5,23.7 1731.3,23.5 1711,23.5Z" fill="url(#fBodyG)"/>
<g clip-path="url(#fBodyClip)">
<rect x="1460" y="150" width="504" height="125" fill="url(#fSideSh)"/>
<ellipse cx="1711" cy="262" rx="110" ry="12" fill="#9a9a9a" opacity="0.55" filter="url(#b3)"/>
<path d="M1460,282C1463.3,281 1470,277.6 1480,276C1490,274.4 1506.7,273.2 1520,272.5C1533.3,271.8 1553.3,272.1 1560,272L1560,288C1553.3,288.2 1532,288 1520,289C1508,290 1497.7,291.5 1488,294C1478.3,296.5 1466.3,302.3 1462,304L1460,282Z" fill="#141414" />
<path d="M1962,282C1958.7,281 1952,277.6 1942,276C1932,274.4 1915.3,273.2 1902,272.5C1888.7,271.8 1868.7,272.1 1862,272L1862,288C1868.7,288.2 1890,288 1902,289C1914,290 1924.3,291.5 1934,294C1943.7,296.5 1955.7,302.3 1960,304L1962,282Z" fill="#141414" />
<path d="M1460,306C1465,304.3 1479.7,298.6 1490,296C1500.3,293.4 1510.3,291.6 1522,290.5C1533.7,289.4 1553.7,289.7 1560,289.5L1560,305C1553.3,305.2 1531.7,304.8 1520,306C1508.3,307.2 1499.7,309 1490,312C1480.3,315 1466.7,322 1462,324L1460,306Z" fill="#565656" />
<path d="M1962,306C1957,304.3 1942.3,298.6 1932,296C1921.7,293.4 1911.7,291.6 1900,290.5C1888.3,289.4 1868.3,289.7 1862,289.5L1862,305C1868.7,305.2 1890.3,304.8 1902,306C1913.7,307.2 1922.3,309 1932,312C1941.7,315 1955.3,322 1960,324L1962,306Z" fill="#565656" />
<path d="M1460,326C1465,324 1480,317.1 1490,314C1500,310.9 1508.3,308.8 1520,307.5C1531.7,306.2 1553.3,306.7 1560,306.5L1560,330L1460,345L1460,326Z" fill="#1b1b1b" />
<path d="M1962,326C1957,324 1942,317.1 1932,314C1922,310.9 1913.7,308.8 1902,307.5C1890.3,306.2 1868.7,306.7 1862,306.5L1862,330L1962,345L1962,326Z" fill="#1b1b1b" />
</g>
<path d="M1564,49C1576.7,48.6 1615.5,47.1 1640,46.5C1664.5,45.9 1687.3,45.5 1711,45.5C1734.7,45.5 1757.3,45.8 1782,46.5C1806.7,47.2 1846.2,49 1859,49.5C1863.2,57.9 1875.8,82.8 1884,100C1892.2,117.2 1904,144.2 1908,153C1893.3,153.7 1852.8,156.1 1820,157C1787.2,157.9 1747.7,158.3 1711,158.5C1674.3,158.7 1632.7,158.7 1600,158C1567.3,157.3 1529.2,155.1 1515,154.5C1519.2,145.4 1531.8,117.6 1540,100C1548.2,82.4 1560,57.5 1564,49Z" fill="#f5f5f5" stroke="#2c2c2c" stroke-width="3"/>
<g clip-path="url(#fGlassClip)">
<ellipse cx="1735" cy="94" rx="115" ry="36" fill="#cfcfcf" opacity="0.7" filter="url(#b6)"/>
<ellipse cx="1596" cy="120" rx="20" ry="9" fill="#9a9a9a" opacity="0.7" filter="url(#b3)"/>
<path d="M1505,135C1508.5,134.6 1532.5,131.7 1540,131C1547.5,130.3 1573.4,128.5 1580,128C1586.6,127.5 1602.8,128 1606,126C1609.2,124 1610.4,110.2 1612,108C1613.6,105.8 1618.6,104 1622,103.5C1625.4,103 1642.6,103 1646,103.5C1649.4,104 1654.7,105.7 1656,108C1657.3,110.3 1654.6,125 1659,127C1663.4,129 1689.5,128 1700,128C1710.5,128.1 1757.2,129.5 1764,127.5C1770.8,125.5 1766.6,110.5 1768,108C1769.4,105.5 1771.4,103.5 1778,103C1784.6,102.5 1827.5,102.5 1834,103C1840.5,103.5 1841.8,105.7 1843,108C1844.2,110.3 1842.3,123.9 1846,126C1849.7,128.1 1873.1,128.5 1880,129C1886.9,129.5 1911.5,130.8 1915,131L1915,165L1505,165L1505,135Z" fill="#686868" filter="url(#b2)"/>
<rect x="1500" y="146" width="420" height="16" fill="#4e4e4e" opacity="0.6" filter="url(#b3)"/>
<rect x="1686" y="56" width="51" height="17" rx="6" fill="#9e9e9e" filter="url(#b2)"/>
</g>
<path d="M1510,158 Q1513,195 1528,218" stroke="#2a2a2a" stroke-width="1.4" fill="none"/>
<path d="M1913,155 Q1909,195 1896,218" stroke="#2a2a2a" stroke-width="1.4" fill="none"/>
<path d="M1515,155.5 Q1711,161 1908,154" stroke="#222" stroke-width="2.5" fill="none"/>
<path d="M1519,232C1519,228.8 1519.2,225.9 1521,224C1522.8,222.1 1520.2,221.2 1530,220.5C1539.8,219.8 1566.8,219.8 1580,219.5C1593.2,219.2 1604.2,219.1 1609,219L1618,246C1611.7,246.2 1594.7,246.8 1580,247C1565.3,247.2 1539.8,248.2 1530,247.5C1520.2,246.8 1522.8,245.6 1521,243C1519.2,240.4 1519,235.2 1519,232Z" fill="url(#fHL)" stroke="#333" stroke-width="1.6"/>
<path d="M1903,232C1903,228.8 1902.8,225.9 1901,224C1899.2,222.1 1901.8,221.2 1892,220.5C1882.2,219.8 1855.2,219.8 1842,219.5C1828.8,219.2 1817.8,219.1 1813,219L1804,246C1810.3,246.2 1827.3,246.8 1842,247C1856.7,247.2 1882.2,248.2 1892,247.5C1901.8,246.8 1899.2,245.6 1901,243C1902.8,240.4 1903,235.2 1903,232Z" fill="url(#fHL)" stroke="#333" stroke-width="1.6"/>
<polygon points="1528,222 1546,221 1540,246 1526,246" fill="#8e8e8e" opacity="0.7"/>
<polygon points="1894,222 1876,221 1882,246 1896,246" fill="#8e8e8e" opacity="0.7"/>
<path d="M1612,213C1620,212.8 1643.5,211.8 1660,211.5C1676.5,211.2 1694,211 1711,211C1728,211 1745.5,211.2 1762,211.5C1778.5,211.8 1802,212.8 1810,213C1808.8,217.5 1805.3,233.3 1803,240C1800.7,246.7 1797.2,250.8 1796,253C1790,253.3 1774.2,254.6 1760,255C1745.8,255.4 1727.3,255.5 1711,255.5C1694.7,255.5 1675.8,255.4 1662,255C1648.2,254.6 1633.7,253.3 1628,253C1626.5,250.8 1621.7,246.7 1619,240C1616.3,233.3 1613.2,217.5 1612,213Z" fill="#dadada" stroke="#555" stroke-width="1.2"/>
<path d="M1624,229C1623.8,225.8 1622,224.6 1628,223.5C1634,222.4 1648,222.6 1660,222.5C1672,222.4 1692.2,222.1 1700,223C1707.8,223.9 1705.7,224.7 1707,228C1708.3,231.3 1708.8,239.7 1708,243C1707.2,246.3 1710,247.1 1702,248C1694,248.9 1671,248.6 1660,248.5C1649,248.4 1641.2,248.4 1636,247.5C1630.8,246.6 1631,246.1 1629,243C1627,239.9 1624.2,232.2 1624,229Z" fill="#1e1e1e" />
<path d="M1798,229C1798.2,225.8 1800,224.6 1794,223.5C1788,222.4 1774,222.6 1762,222.5C1750,222.4 1729.8,222.1 1722,223C1714.2,223.9 1716.3,224.7 1715,228C1713.7,231.3 1713.2,239.7 1714,243C1714.8,246.3 1712,247.1 1720,248C1728,248.9 1751,248.6 1762,248.5C1773,248.4 1780.8,248.4 1786,247.5C1791.2,246.6 1791,246.1 1793,243C1795,239.9 1797.8,232.2 1798,229Z" fill="#1e1e1e" />
<line x1="1630.5" y1="225.5" x2="1633.5" y2="246" stroke="#8c8c8c" stroke-width="1.5"/>
<line x1="1791.5" y1="225.5" x2="1788.5" y2="246" stroke="#8c8c8c" stroke-width="1.5"/>
<line x1="1637.2" y1="225.5" x2="1640.2" y2="246" stroke="#8c8c8c" stroke-width="1.5"/>
<line x1="1784.8" y1="225.5" x2="1781.8" y2="246" stroke="#8c8c8c" stroke-width="1.5"/>
<line x1="1643.9" y1="225.5" x2="1646.9" y2="246" stroke="#8c8c8c" stroke-width="1.5"/>
<line x1="1778.1" y1="225.5" x2="1775.1" y2="246" stroke="#8c8c8c" stroke-width="1.5"/>
<line x1="1650.6" y1="225.5" x2="1653.6" y2="246" stroke="#8c8c8c" stroke-width="1.5"/>
<line x1="1771.4" y1="225.5" x2="1768.4" y2="246" stroke="#8c8c8c" stroke-width="1.5"/>
<line x1="1657.3" y1="225.5" x2="1660.3" y2="246" stroke="#8c8c8c" stroke-width="1.5"/>
<line x1="1764.7" y1="225.5" x2="1761.7" y2="246" stroke="#8c8c8c" stroke-width="1.5"/>
<line x1="1664.0" y1="225.5" x2="1667.0" y2="246" stroke="#8c8c8c" stroke-width="1.5"/>
<line x1="1758.0" y1="225.5" x2="1755.0" y2="246" stroke="#8c8c8c" stroke-width="1.5"/>
<line x1="1670.7" y1="225.5" x2="1673.7" y2="246" stroke="#8c8c8c" stroke-width="1.5"/>
<line x1="1751.3" y1="225.5" x2="1748.3" y2="246" stroke="#8c8c8c" stroke-width="1.5"/>
<line x1="1677.4" y1="225.5" x2="1680.4" y2="246" stroke="#8c8c8c" stroke-width="1.5"/>
<line x1="1744.6" y1="225.5" x2="1741.6" y2="246" stroke="#8c8c8c" stroke-width="1.5"/>
<line x1="1684.1" y1="225.5" x2="1687.1" y2="246" stroke="#8c8c8c" stroke-width="1.5"/>
<line x1="1737.9" y1="225.5" x2="1734.9" y2="246" stroke="#8c8c8c" stroke-width="1.5"/>
<line x1="1690.8" y1="225.5" x2="1693.8" y2="246" stroke="#8c8c8c" stroke-width="1.5"/>
<line x1="1731.2" y1="225.5" x2="1728.2" y2="246" stroke="#8c8c8c" stroke-width="1.5"/>
<line x1="1697.5" y1="225.5" x2="1700.5" y2="246" stroke="#8c8c8c" stroke-width="1.5"/>
<line x1="1724.5" y1="225.5" x2="1721.5" y2="246" stroke="#8c8c8c" stroke-width="1.5"/>
<path d="M1704,214 L1720,214 L1719,222 L1712,227 L1705,222 Z" fill="#7a7a7a"/>
<rect x="1639" y="273.5" width="145" height="29.5" fill="#e2e2e2"/>
<path d="M1529,309L1581,309.5L1580,328L1538,328L1529,309Z" fill="#b8b8b8" stroke="#444" stroke-width="1.2"/>
<path d="M1893,309L1841,309.5L1842,328L1884,328L1893,309Z" fill="#b8b8b8" stroke="#444" stroke-width="1.2"/>
<line x1="1640" y1="309" x2="1640" y2="338" stroke="#4a4a4a" stroke-width="1"/>
<line x1="1688" y1="309" x2="1688" y2="338" stroke="#4a4a4a" stroke-width="1"/>
<line x1="1734" y1="309" x2="1734" y2="338" stroke="#4a4a4a" stroke-width="1"/>
<line x1="1782" y1="309" x2="1782" y2="338" stroke="#4a4a4a" stroke-width="1"/>
<line x1="1596" y1="323" x2="1826" y2="322" stroke="#444" stroke-width="1"/>
<line x1="1600" y1="339" x2="1822" y2="338" stroke="#444" stroke-width="1"/>
<rect x="1437" y="125" width="49" height="34" rx="9" fill="url(#fMir)"/>
<rect x="1936.5" y="123" width="50" height="35" rx="9" fill="url(#fMir)"/>
<polygon points="1470,156 1490,152 1492,156 1476,160" fill="#222"/>
<polygon points="1952,155 1934,151 1932,155 1946,159" fill="#222"/>
</g>

<g id="top">
<path d="M35,875C35.2,864.7 34.8,846.7 36,830C37.2,813.3 38.8,795.5 42,775C45.2,754.5 51,721.8 55,707C59,692.2 61.8,691.7 66,686C70.2,680.3 69,677.8 80,673C91,668.2 110.8,662.2 132,657C153.2,651.8 188.2,644.4 207,641.5C225.8,638.6 209.5,640.1 245,639.5C280.5,638.9 374.2,638.4 420,638C465.8,637.6 473.3,637.4 520,637C566.7,636.6 636.7,635.9 700,635.5C763.3,635.1 835,634.6 900,634.5C965,634.4 1050.8,633.8 1090,635C1129.2,636.2 1110.8,638.8 1135,642C1159.2,645.2 1212.8,651.2 1235,654C1257.2,656.8 1259.8,656.7 1268,659C1276.2,661.3 1280,663.7 1284,668C1288,672.3 1289.8,675.5 1292,685C1294.2,694.5 1295.3,705.8 1297,725C1298.7,744.2 1300.7,775 1302,800C1303.3,825 1305,850 1305,875C1305,900 1303.3,925.3 1302,950C1300.7,974.7 1298.7,1004.3 1297,1023C1295.3,1041.7 1294.2,1052.7 1292,1062C1289.8,1071.3 1288,1074.7 1284,1079C1280,1083.3 1276.2,1085.7 1268,1088C1259.8,1090.3 1257.2,1090 1235,1093C1212.8,1096 1159.2,1102.8 1135,1106C1110.8,1109.2 1102.5,1110.9 1090,1112C1077.5,1113.1 1091.7,1112.2 1060,1112.5C1028.3,1112.8 960,1113.6 900,1114C840,1114.4 763.3,1114.8 700,1115C636.7,1115.2 566.7,1115 520,1115C473.3,1115 461.7,1115.2 420,1115C378.3,1114.8 304.2,1114.5 270,1114C235.8,1113.5 231.7,1113.3 215,1112C198.3,1110.7 184.2,1108.5 170,1106C155.8,1103.5 142.5,1100.2 130,1097C117.5,1093.8 103,1089.7 95,1087C87,1084.3 86.2,1083.5 82,1081C77.8,1078.5 73.3,1075.8 70,1072C66.7,1068.2 64.5,1064.2 62,1058C59.5,1051.8 57.3,1044.7 55,1035C52.7,1025.3 50.2,1012.5 48,1000C45.8,987.5 43.7,971.7 42,960C40.3,948.3 39.2,941.3 38,930C36.8,918.7 35.5,901.2 35,892C34.5,882.8 34.8,885.3 35,875Z" fill="url(#tBodyG)"/>
<g clip-path="url(#tBodyClip)">
<path d="M30,875C30,841.7 29.3,804.2 32,775C34.7,745.8 39.7,717.8 46,700C52.3,682.2 56,676.3 70,668C84,659.7 118.3,651 130,650C141.7,649 145.5,656.7 140,662C134.5,667.3 105.3,675.7 97,682C88.7,688.3 94.5,683 90,700C85.5,717 76.5,754.8 70,784C63.5,813.2 51,844.7 51,875C51,905.3 63.5,936.8 70,966C76.5,995.2 85.5,1033 90,1050C94.5,1067 88.7,1061.7 97,1068C105.3,1074.3 134.5,1082.7 140,1088C145.5,1093.3 141.7,1101 130,1100C118.3,1099 84,1090.3 70,1082C56,1073.7 52.3,1067.8 46,1050C39.7,1032.2 34.7,1004.2 32,975C29.3,945.8 30,908.3 30,875Z" fill="url(#tBump)" />
<path d="M100,676C116.7,674.3 166.7,663.5 200,660C233.3,656.5 263.3,656 300,655C336.7,654 400,654.8 420,654C440,653.2 440,650.7 420,650C400,649.3 336.7,649.2 300,650C263.3,650.8 233.3,651.7 200,655C166.7,658.3 116.7,666.5 100,670C83.3,673.5 83.3,677.7 100,676Z" fill="#8c8c8c" opacity="0.6" filter="url(#b2)"/>
<path d="M140,652C155.8,649 198.3,644 245,642C291.7,640 390.8,639.3 420,640C449.2,640.7 449.2,644.7 420,646C390.8,647.3 290,645.7 245,648C200,650.3 167.5,659.3 150,660C132.5,660.7 124.2,655 140,652Z" fill="#4a4a4a" opacity="0.8" filter="url(#b2)"/>
<path d="M100,1074C116.7,1075.7 166.7,1086.5 200,1090C233.3,1093.5 263.3,1094 300,1095C336.7,1096 400,1095.2 420,1096C440,1096.8 440,1099.3 420,1100C400,1100.7 336.7,1100.8 300,1100C263.3,1099.2 233.3,1098.3 200,1095C166.7,1091.7 116.7,1083.5 100,1080C83.3,1076.5 83.3,1072.3 100,1074Z" fill="#8c8c8c" opacity="0.6" filter="url(#b2)"/>
<path d="M140,1098C155.8,1101 198.3,1106 245,1108C291.7,1110 390.8,1110.7 420,1110C449.2,1109.3 449.2,1105.3 420,1104C390.8,1102.7 290,1104.3 245,1102C200,1099.7 167.5,1090.7 150,1090C132.5,1089.3 124.2,1095 140,1098Z" fill="#4a4a4a" opacity="0.8" filter="url(#b2)"/>
<path d="M1000,630C1018.3,620 1060,626.7 1100,630C1140,633.3 1206.7,644.2 1240,650C1273.3,655.8 1288.3,627.5 1300,665C1311.7,702.5 1315,840 1310,875C1305,910 1276.7,903.5 1270,875C1263.3,846.5 1293.7,734.5 1270,704C1246.3,673.5 1177,688.2 1128,692C1079,695.8 999,727.3 976,727C953,726.7 986,706.2 990,690C994,673.8 981.7,640 1000,630Z" fill="#545454" opacity="0.75" filter="url(#b3)"/>
<path d="M1090,638C1097.5,639.8 1110.8,641.8 1135,645C1159.2,648.2 1213.2,654.2 1235,657C1256.8,659.8 1258.2,659.5 1266,662C1273.8,664.5 1278,667.3 1282,672C1286,676.7 1287.7,675.3 1290,690C1292.3,704.7 1294.3,729.2 1296,760C1297.7,790.8 1298.3,855.8 1300,875C1301.7,894.2 1306,905.8 1306,875C1306,844.2 1302.7,724.5 1300,690C1297.3,655.5 1295,673.5 1290,668C1285,662.5 1295.8,661.7 1270,657C1244.2,652.3 1165,643.8 1135,640C1105,636.2 1097.5,634.3 1090,634C1082.5,633.7 1082.5,636.2 1090,638Z" fill="#8a8a8a" opacity="0.7" filter="url(#b2)"/>
<path d="M1000,1120C1018.3,1130 1060,1123.3 1100,1120C1140,1116.7 1206.7,1105.8 1240,1100C1273.3,1094.2 1288.3,1122.5 1300,1085C1311.7,1047.5 1315,910 1310,875C1305,840 1276.7,846.5 1270,875C1263.3,903.5 1293.7,1015.5 1270,1046C1246.3,1076.5 1177,1061.8 1128,1058C1079,1054.2 999,1022.7 976,1023C953,1023.3 986,1043.8 990,1060C994,1076.2 981.7,1110 1000,1120Z" fill="#545454" opacity="0.75" filter="url(#b3)"/>
<path d="M1090,1112C1097.5,1110.2 1110.8,1108.2 1135,1105C1159.2,1101.8 1213.2,1095.8 1235,1093C1256.8,1090.2 1258.2,1090.5 1266,1088C1273.8,1085.5 1278,1082.7 1282,1078C1286,1073.3 1287.7,1074.7 1290,1060C1292.3,1045.3 1294.3,1020.8 1296,990C1297.7,959.2 1298.3,894.2 1300,875C1301.7,855.8 1306,844.2 1306,875C1306,905.8 1302.7,1025.5 1300,1060C1297.3,1094.5 1295,1076.5 1290,1082C1285,1087.5 1295.8,1088.3 1270,1093C1244.2,1097.7 1165,1106.2 1135,1110C1105,1113.8 1097.5,1115.7 1090,1116C1082.5,1116.3 1082.5,1113.8 1090,1112Z" fill="#8a8a8a" opacity="0.7" filter="url(#b2)"/>
</g>
<path d="M80,875C80,844.7 80,799.2 80,784C80.7,781.7 82.2,779 84,770C85.8,761 88.8,742.5 91,730C93.2,717.5 96,700.8 97,695C122.5,693.5 200.8,689 250,686C299.2,683 365.3,677.3 392,677C418.7,676.7 407,682.8 410,684C407,688.7 396.8,701.8 392,712C387.2,722.2 384.3,730.3 381,745C377.7,759.7 374,778.3 372,800C370,821.7 369,850 369,875C369,900 370,928.3 372,950C374,971.7 377.7,990.3 381,1005C384.3,1019.7 387.2,1027.8 392,1038C396.8,1048.2 407,1061.3 410,1066C407,1067.2 418.7,1073.3 392,1073C365.3,1072.7 299.2,1067 250,1064C200.8,1061 122.5,1056.5 97,1055C96,1049.2 93.2,1032.5 91,1020C88.8,1007.5 85.8,989 84,980C82.2,971 80.7,968.3 80,966C80,950.8 80,905.3 80,875Z" fill="#303030"/>
<g clip-path="url(#tHoodClip)">
<path d="M70,680L196,680C196,681.7 194.2,683 196,690C197.8,697 207,712.8 207,722C207,731.2 201.2,738.8 196,745C190.8,751.2 179.3,756.7 176,759C180,759.8 193.7,761.5 200,764C206.3,766.5 210.5,766 214,774C217.5,782 219.2,795.2 221,812C222.8,828.8 221.2,858.7 225,875C228.8,891.3 236.5,895.8 244,910C251.5,924.2 261.3,943.3 270,960C278.7,976.7 289.3,995.8 296,1010C302.7,1024.2 306.7,1033.3 310,1045C313.3,1056.7 315,1074.2 316,1080L70,1080L70,680Z" fill="url(#tHoodL)" />
<path d="M70,972C91.7,976.2 162.3,989.3 200,997C237.7,1004.7 272.7,1012.5 296,1018C319.3,1023.5 324,1021 340,1030C356,1039 383.3,1065 392,1072L70,1085L70,972Z" fill="#000" opacity="0.28"/>
<path d="M70,790C87.7,785 146,768 176,760C206,752 226,747.8 250,742C274,736.2 301.7,732 320,725C338.3,718 347.5,707.5 360,700C372.5,692.5 389.2,683.3 395,680L70,680L70,790Z" fill="#000" opacity="0.18"/>
<path d="M82,783C97.7,779 148,765.8 176,759C204,752.2 226,747.5 250,742C274,736.5 302.5,732 320,726C337.5,720 343,713.5 355,706C367,698.5 385.8,685.2 392,681" stroke="#8a8a8a" stroke-width="1.6" fill="none"/>
<path d="M82,974C101.7,978 164.3,990.7 200,998C235.7,1005.3 273.5,1012.7 296,1018C318.5,1023.3 323.5,1024.3 335,1030C346.5,1035.7 355.5,1045 365,1052C374.5,1059 387.5,1068.7 392,1072" stroke="#8a8a8a" stroke-width="1.6" fill="none"/>
</g>
<path d="M80,875C80,844.7 80,799.2 80,784C80.7,781.7 82.2,779 84,770C85.8,761 88.8,742.5 91,730C93.2,717.5 96,700.8 97,695C122.5,693.5 200.8,689 250,686C299.2,683 365.3,677.3 392,677C418.7,676.7 407,682.8 410,684C407,688.7 396.8,701.8 392,712C387.2,722.2 384.3,730.3 381,745C377.7,759.7 374,778.3 372,800C370,821.7 369,850 369,875C369,900 370,928.3 372,950C374,971.7 377.7,990.3 381,1005C384.3,1019.7 387.2,1027.8 392,1038C396.8,1048.2 407,1061.3 410,1066C407,1067.2 418.7,1073.3 392,1073C365.3,1072.7 299.2,1067 250,1064C200.8,1061 122.5,1056.5 97,1055C96,1049.2 93.2,1032.5 91,1020C88.8,1007.5 85.8,989 84,980C82.2,971 80.7,968.3 80,966C80,950.8 80,905.3 80,875Z" fill="none" stroke="#222" stroke-width="1.4"/>
<path d="M69,783C69.8,776.7 71.8,757.2 74,745C76.2,732.8 79.5,719 82,710C84.5,701 87.8,694.2 89,691L96,694C95,700 92.2,715.2 90,730C87.8,744.8 84.2,774.2 83,783L69,783Z" fill="#c4c4c4" />
<path d="M69,967C69.8,973.3 71.8,992.8 74,1005C76.2,1017.2 79.5,1031 82,1040C84.5,1049 87.8,1055.8 89,1059L96,1056C95,1050 92.2,1034.8 90,1020C87.8,1005.2 84.2,975.8 83,967L69,967Z" fill="#c4c4c4" />
<path d="M51,875C51.4,867.5 52.3,842.2 53.5,830C54.7,817.8 55.9,809.2 58,802C60.1,794.8 64.7,789.5 66,787L80,786C80,800.8 80,845.3 80,875C80,904.7 80,949.2 80,964L66,963C64.7,960.5 60.1,955.2 58,948C55.9,940.8 54.7,932.2 53.5,920C52.3,907.8 51.4,882.5 51,875Z" fill="#cfcfcf" />
<path d="M55,875C55.3,868.2 56,845.2 57,834C58,822.8 59.5,814.2 61,808C62.5,801.8 64.2,798.7 66,797C67.8,795.3 71,797.8 72,798C72,810.8 72,849.3 72,875C72,900.7 72,939.2 72,952C71,952.2 67.8,954.7 66,953C64.2,951.3 62.5,948.2 61,942C59.5,935.8 58,927.2 57,916C56,904.8 55.3,881.8 55,875Z" fill="#262626" />
<polygon points="56,875 72,866 72,884" fill="#c8c8c8"/><circle cx="65" cy="875" r="3.2" fill="#555"/>
<path d="M410,684C407,688.7 396.8,701.8 392,712C387.2,722.2 384.3,730.3 381,745C377.7,759.7 374,778.3 372,800C370,821.7 369,850 369,875C369,900 370,928.3 372,950C374,971.7 377.7,990.3 381,1005C384.3,1019.7 387.2,1027.8 392,1038C396.8,1048.2 407,1061.3 410,1066L422,1060C419.2,1055.7 409.7,1043.7 405,1034C400.3,1024.3 397.3,1016 394,1002C390.7,988 387,971.2 385,950C383,928.8 382,900 382,875C382,850 383,821.2 385,800C387,778.8 390.7,762 394,748C397.3,734 400.3,725.7 405,716C409.7,706.3 419.2,694.3 422,690L410,684Z" fill="#3c3c3c" />
<path d="M382,875C382,850 383,821.2 385,800C387,778.8 390.7,762 394,748C397.3,734 400.3,725.7 405,716C409.7,706.3 419.2,694.3 422,690C435,693 471.3,701.2 500,708C528.7,714.8 578.3,727.2 594,731C593.2,742.5 590.3,776 589,800C587.7,824 586,850 586,875C586,900 587.7,926 589,950C590.3,974 593.2,1007.5 594,1019C578.3,1022.8 528.7,1035.2 500,1042C471.3,1048.8 435,1057 422,1060C419.2,1055.7 409.7,1043.7 405,1034C400.3,1024.3 397.3,1016 394,1002C390.7,988 387,971.2 385,950C383,928.8 382,900 382,875Z" fill="#a8a8a8"/>
<g clip-path="url(#tWsClip)">
<path d="M455,700C464.2,685.3 491.7,695.3 500,712C508.3,728.7 505,768.7 505,800C505,831.3 497.5,866.7 500,900C502.5,933.3 520,975 520,1000C520,1025 511.7,1041.7 500,1050C488.3,1058.3 460,1075 450,1050C440,1025 440.8,941.7 440,900C439.2,858.3 442.5,833.3 445,800C447.5,766.7 445.8,714.7 455,700Z" fill="#c4c4c4" opacity="0.7" filter="url(#b6)"/>
<path d="M500,730C513.3,720 571.2,728.3 585,740C598.8,751.7 583.8,763.3 583,800C582.2,836.7 586.3,930.8 580,960C573.7,989.2 555,985 545,975C535,965 526.7,929.2 520,900C513.3,870.8 508.3,828.3 505,800C501.7,771.7 486.7,740 500,730Z" fill="#8a8a8a" opacity="0.7" filter="url(#b6)"/>
<path d="M404,720C405.5,704 413,696.7 424,694C435,691.3 457.3,700.7 470,704C482.7,707.3 500,709.7 500,714C500,718.3 480,722.3 470,730C460,737.7 446.7,748.3 440,760C433.3,771.7 434.2,795 430,800C425.8,805 419.3,803.3 415,790C410.7,776.7 402.5,736 404,720Z" fill="#fff" filter="url(#b3)"/>
<path d="M384,950C386.3,945 392.3,951.7 400,960C407.7,968.3 418.3,988.3 430,1000C441.7,1011.7 457.5,1021.7 470,1030C482.5,1038.3 505,1044.7 505,1050C505,1055.3 484.2,1059 470,1062C455.8,1065 432,1073.3 420,1068C408,1062.7 403.7,1043 398,1030C392.3,1017 388.3,1003.3 386,990C383.7,976.7 381.7,955 384,950Z" fill="#fff" filter="url(#b3)"/>
<ellipse cx="574" cy="1000" rx="17" ry="28" fill="#fff" opacity="0.8" filter="url(#b6)"/>
</g>
<path d="M425,642C470.8,641.4 604.2,639.2 700,638.5C795.8,637.8 950,637.7 1000,637.5C1001.3,639.6 1007.3,644.9 1008,650C1008.7,655.1 1007.8,661.3 1004,668C1000.2,674.7 994,682.7 985,690C976,697.3 964.2,705.7 950,712C935.8,718.3 931.7,724.8 900,728C868.3,731.2 806.7,730.8 760,731C713.3,731.2 648.3,729.8 620,729C591.7,728.2 613.3,732.5 590,726C566.7,719.5 498.3,696 480,690C473.3,686.3 449.2,676 440,668C430.8,660 427.5,646.3 425,642Z" fill="#484848" />
<path d="M520,646C598.3,644.7 911.7,643.3 990,644C1068.3,644.7 1068.3,648.7 990,650C911.7,651.3 598.3,652.7 520,652C441.7,651.3 441.7,647.3 520,646Z" fill="#6a6a6a" opacity="0.8" filter="url(#b2)"/>
<path d="M425,1108C470.8,1108.6 604.2,1110.8 700,1111.5C795.8,1112.2 950,1112.3 1000,1112.5C1001.3,1110.4 1007.3,1105.1 1008,1100C1008.7,1094.9 1007.8,1088.7 1004,1082C1000.2,1075.3 994,1067.3 985,1060C976,1052.7 964.2,1044.3 950,1038C935.8,1031.7 931.7,1025.2 900,1022C868.3,1018.8 806.7,1019.2 760,1019C713.3,1018.8 648.3,1020.2 620,1021C591.7,1021.8 613.3,1017.5 590,1024C566.7,1030.5 498.3,1054 480,1060C473.3,1063.7 449.2,1074 440,1082C430.8,1090 427.5,1103.7 425,1108Z" fill="#484848" />
<path d="M520,1104C598.3,1105.3 911.7,1106.7 990,1106C1068.3,1105.3 1068.3,1101.3 990,1100C911.7,1098.7 598.3,1097.3 520,1098C441.7,1098.7 441.7,1102.7 520,1104Z" fill="#6a6a6a" opacity="0.8" filter="url(#b2)"/>
<path d="M462,660L704,660L731,717C717.5,716.5 669.8,715.5 650,714C630.2,712.5 630.3,713 612,708C593.7,703 565,692 540,684C515,676 475,664 462,660Z" fill="url(#tWinU)" stroke="#1e1e1e" stroke-width="2.5"/>
<path d="M746,662L982,664C975.8,667.8 957.8,679.3 945,687C932.2,694.7 919.2,705 905,710C890.8,715 883.7,715.8 860,717C836.3,718.2 779.2,717 763,717L746,662Z" fill="url(#tWinU)" stroke="#1e1e1e" stroke-width="2.5"/>
<path d="M938,664C938,660.2 943.3,660.7 946,664C948.7,667.3 954,680.2 954,684C954,687.8 948.7,690.3 946,687C943.3,683.7 938,667.8 938,664Z" fill="#3a3a3a" />
<path d="M712,652C710,639.7 719.3,639.7 726,652C732.7,664.3 750,713.7 752,726C754,738.3 744.7,738.3 738,726C731.3,713.7 714,664.3 712,652Z" fill="#7c7c7c" opacity="0.8"/>
<path d="M440,672C441.7,671 460,677.3 480,684C500,690.7 540,705.7 560,712C580,718.3 566.7,719.8 600,722C633.3,724.2 710,725 760,725C810,725 876.7,721.8 900,722C923.3,722.2 923.3,724.8 900,726C876.7,727.2 810,728.8 760,729C710,729.2 634.2,728.7 600,727C565.8,725.3 576.7,725.2 555,719C533.3,712.8 489.2,697.8 470,690C450.8,682.2 438.3,673 440,672Z" fill="#808080" opacity="0.55" filter="url(#b2)"/>
<path d="M462,1090L704,1090L731,1033C717.5,1033.5 669.8,1034.5 650,1036C630.2,1037.5 630.3,1037 612,1042C593.7,1047 565,1058 540,1066C515,1074 475,1086 462,1090Z" fill="url(#tWinL)" stroke="#1e1e1e" stroke-width="2.5"/>
<path d="M746,1088L982,1086C975.8,1082.2 957.8,1070.7 945,1063C932.2,1055.3 919.2,1045 905,1040C890.8,1035 883.7,1034.2 860,1033C836.3,1031.8 779.2,1033 763,1033L746,1088Z" fill="url(#tWinL)" stroke="#1e1e1e" stroke-width="2.5"/>
<path d="M938,1086C938,1089.8 943.3,1089.3 946,1086C948.7,1082.7 954,1069.8 954,1066C954,1062.2 948.7,1059.7 946,1063C943.3,1066.3 938,1082.2 938,1086Z" fill="#3a3a3a" />
<path d="M712,1098C710,1110.3 719.3,1110.3 726,1098C732.7,1085.7 750,1036.3 752,1024C754,1011.7 744.7,1011.7 738,1024C731.3,1036.3 714,1085.7 712,1098Z" fill="#7c7c7c" opacity="0.8"/>
<path d="M440,1078C441.7,1079 460,1072.7 480,1066C500,1059.3 540,1044.3 560,1038C580,1031.7 566.7,1030.2 600,1028C633.3,1025.8 710,1025 760,1025C810,1025 876.7,1028.2 900,1028C923.3,1027.8 923.3,1025.2 900,1024C876.7,1022.8 810,1021.2 760,1021C710,1020.8 634.2,1021.3 600,1023C565.8,1024.7 576.7,1024.8 555,1031C533.3,1037.2 489.2,1052.2 470,1060C450.8,1067.8 438.3,1077 440,1078Z" fill="#808080" opacity="0.55" filter="url(#b2)"/>
<path d="M586,875C586,850 587.7,824 589,800C590.3,776 593.2,742.5 594,731C611.7,731.2 657.3,732.5 700,732.5C742.7,732.5 804,731.9 850,731C896,730.1 955,727.7 976,727C977,739.2 980.7,775.3 982,800C983.3,824.7 984,850 984,875C984,900 983.3,925.3 982,950C980.7,974.7 977,1010.8 976,1023C955,1022.3 896,1019.9 850,1019C804,1018.1 742.7,1017.5 700,1017.5C657.3,1017.5 611.7,1018.8 594,1019C593.2,1007.5 590.3,974 589,950C587.7,926 586,900 586,875Z" fill="url(#tRoofG)"/>
<g clip-path="url(#tRoofClip)">
<path d="M606,760C607,720.2 586.5,754.3 612,753C637.5,751.7 734.5,752.2 759,752C758.2,756.7 752.2,770 754,780C755.8,790 764.3,803 770,812C775.7,821 776.8,819 788,834C799.2,849 820.7,881 837,902C853.3,923 869.8,944.7 886,960C902.2,975.3 925.3,987.3 934,994C942.7,1000.7 937.3,999 938,1000C883.7,1000 667.3,1001.3 612,1000C556.7,998.7 607,1032 606,992C605,952 605,799.8 606,760Z" fill="#363636" filter="url(#b2)"/>
<path d="M759,752C792.5,751.7 925.2,748.7 960,750C994.8,751.3 966.7,720 968,760C969.3,800 969.3,950 968,990C966.7,1030 965,998.3 960,1000C955,1001.7 941.7,1000 938,1000C937.3,999 942.7,1000.7 934,994C925.3,987.3 902.2,975.3 886,960C869.8,944.7 853.3,923 837,902C820.7,881 799.2,849 788,834C776.8,819 775.7,821 770,812C764.3,803 755.8,790 754,780C752.2,770 758.2,756.7 759,752Z" fill="#676767" filter="url(#b2)"/>
</g>
<path d="M984,875C984,850 983.3,824.7 982,800C980.7,775.3 977,739.2 976,727C988.3,723.7 1027.3,713.3 1050,707C1072.7,700.7 1100,691.8 1112,689C1124,686.2 1118.2,688 1122,690C1125.8,692 1128.7,691 1135,701C1141.3,711 1153.8,731.5 1160,750C1166.2,768.5 1169.2,791.2 1172,812C1174.8,832.8 1177,854 1177,875C1177,896 1174.8,917.2 1172,938C1169.2,958.8 1166.2,981.5 1160,1000C1153.8,1018.5 1141.3,1039 1135,1049C1128.7,1059 1125.8,1058 1122,1060C1118.2,1062 1124,1063.8 1112,1061C1100,1058.2 1072.7,1049.3 1050,1043C1027.3,1036.7 988.3,1026.3 976,1023C977,1010.8 980.7,974.7 982,950C983.3,925.3 984,900 984,875Z" fill="#606060" stroke="#222" stroke-width="1.5"/>
<path d="M997,875C997,850 996.2,823 995,800C993.8,777 990.8,747.5 990,737C1000,734.3 1030.7,726.5 1050,721C1069.3,715.5 1093.7,705.5 1106,704C1118.3,702.5 1117.3,703.5 1124,712C1130.7,720.5 1140.3,738.3 1146,755C1151.7,771.7 1155.2,792 1158,812C1160.8,832 1163,854 1163,875C1163,896 1160.8,918 1158,938C1155.2,958 1151.7,978.3 1146,995C1140.3,1011.7 1130.7,1029.5 1124,1038C1117.3,1046.5 1118.3,1047.5 1106,1046C1093.7,1044.5 1069.3,1034.5 1050,1029C1030.7,1023.5 1000,1015.7 990,1013C990.8,1002.5 993.8,973 995,950C996.2,927 997,900 997,875Z" fill="#fbfbfb"/>
<g clip-path="url(#tRgiClip)">
<path d="M985,730C987.5,680 995.5,728.3 1000,740C1004.5,751.7 1005.3,780 1012,800C1018.7,820 1028,841.7 1040,860C1052,878.3 1070.7,888.3 1084,910C1097.3,931.7 1109,968.3 1120,990C1131,1011.7 1172.5,1031.7 1150,1040C1127.5,1048.3 1012.5,1091.7 985,1040C957.5,988.3 982.5,780 985,730Z" fill="#a2a2a2" filter="url(#b6)"/>
<path d="M1060,720C1063.3,710.8 1107.5,705 1120,715C1132.5,725 1138.3,770.8 1135,780C1131.7,789.2 1112.5,780 1100,770C1087.5,760 1056.7,729.2 1060,720Z" fill="#c8c8c8" opacity="0.6" filter="url(#b6)"/>
</g>
<path d="M1177,875C1177,854 1174.8,832.8 1172,812C1169.2,791.2 1166.2,768.5 1160,750C1153.8,731.5 1140.3,710.7 1135,701C1129.7,691.3 1129.2,693.5 1128,692C1140,693 1176.3,696 1200,698C1223.7,700 1258.3,703 1270,704C1270.3,720 1271.5,771.5 1272,800C1272.5,828.5 1273,850 1273,875C1273,900 1272.5,921.5 1272,950C1271.5,978.5 1270.3,1030 1270,1046C1258.3,1047 1223.7,1050 1200,1052C1176.3,1054 1140,1057 1128,1058C1129.2,1056.5 1129.7,1058.7 1135,1049C1140.3,1039.3 1153.8,1018.5 1160,1000C1166.2,981.5 1169.2,958.8 1172,938C1174.8,917.2 1177,896 1177,875Z" fill="url(#tTrG)" stroke="#222" stroke-width="1.2"/>
<g clip-path="url(#tTrClip)">
<path d="M1120,680L1212,690C1211.2,692.7 1209.8,696.8 1207,706C1204.2,715.2 1195.3,731.5 1195,745C1194.7,758.5 1201.3,773.7 1205,787C1208.7,800.3 1212.7,807.5 1217,825C1221.3,842.5 1226.3,864.5 1231,892C1235.7,919.5 1241.3,965.3 1245,990C1248.7,1014.7 1251.2,1027.5 1253,1040C1254.8,1052.5 1255.5,1060.8 1256,1065L1120,1070L1120,680Z" fill="#404040" />
</g>
<path d="M1273,705L1287,707C1287.9,722.5 1291.3,772 1292.5,800C1293.7,828 1294,850 1294,875C1294,900 1293.7,922 1292.5,950C1291.3,978 1287.9,1027.5 1287,1043L1273,1045C1273.6,1016.7 1276.5,931.7 1276.5,875C1276.5,818.3 1273.6,733.3 1273,705Z" fill="#1c1c1c" />
<path d="M489,662C489.5,658.3 490.2,647 492,640C493.8,633 496.7,625 500,620C503.3,615 508.2,611.8 512,610C515.8,608.2 520.8,608.8 523,609.5C525.2,610.2 525.5,608.9 525,614C524.5,619.1 522.2,631.7 520,640C517.8,648.3 513.3,660 512,664L489,662Z" fill="url(#tMir)" />
<path d="M489,1088C489.5,1091.7 490.2,1103 492,1110C493.8,1117 496.7,1125 500,1130C503.3,1135 508.2,1138.2 512,1140C515.8,1141.8 520.8,1141.2 523,1140.5C525.2,1139.8 525.5,1141.1 525,1136C524.5,1130.9 522.2,1118.3 520,1110C517.8,1101.7 513.3,1090 512,1086L489,1088Z" fill="url(#tMir)" />
<path d="M485,655 L500,650 L506,660 L490,666 Z" fill="#141414"/>
<path d="M485,1095 L500,1100 L506,1090 L490,1084 Z" fill="#141414"/>
</g>

<g id="rear">
<path d="M1482,975 L1540,975 L1543,1066 L1479,1066 Z" fill="url(#rTire)"/>
<path d="M1482,975 L1540,975 L1543,1066 L1479,1066 Z" fill="url(#fTireH)"/>
<path d="M1488,1005 l10,-7 l10,7 M1513,1005 l10,-7 l10,7" stroke="#333" stroke-width="1.6" fill="none" opacity="0.5"/>
<path d="M1488,1015 l10,-7 l10,7 M1513,1015 l10,-7 l10,7" stroke="#333" stroke-width="1.6" fill="none" opacity="0.5"/>
<path d="M1488,1025 l10,-7 l10,7 M1513,1025 l10,-7 l10,7" stroke="#333" stroke-width="1.6" fill="none" opacity="0.5"/>
<path d="M1488,1035 l10,-7 l10,7 M1513,1035 l10,-7 l10,7" stroke="#333" stroke-width="1.6" fill="none" opacity="0.5"/>
<path d="M1488,1045 l10,-7 l10,7 M1513,1045 l10,-7 l10,7" stroke="#333" stroke-width="1.6" fill="none" opacity="0.5"/>
<path d="M1488,1055 l10,-7 l10,7 M1513,1055 l10,-7 l10,7" stroke="#333" stroke-width="1.6" fill="none" opacity="0.5"/>
<path d="M1886,975 L1944,975 L1947,1066 L1883,1066 Z" fill="url(#rTire)"/>
<path d="M1886,975 L1944,975 L1947,1066 L1883,1066 Z" fill="url(#fTireH)"/>
<path d="M1892,1005 l10,-7 l10,7 M1917,1005 l10,-7 l10,7" stroke="#333" stroke-width="1.6" fill="none" opacity="0.5"/>
<path d="M1892,1015 l10,-7 l10,7 M1917,1015 l10,-7 l10,7" stroke="#333" stroke-width="1.6" fill="none" opacity="0.5"/>
<path d="M1892,1025 l10,-7 l10,7 M1917,1025 l10,-7 l10,7" stroke="#333" stroke-width="1.6" fill="none" opacity="0.5"/>
<path d="M1892,1035 l10,-7 l10,7 M1917,1035 l10,-7 l10,7" stroke="#333" stroke-width="1.6" fill="none" opacity="0.5"/>
<path d="M1892,1045 l10,-7 l10,7 M1917,1045 l10,-7 l10,7" stroke="#333" stroke-width="1.6" fill="none" opacity="0.5"/>
<path d="M1892,1055 l10,-7 l10,7 M1917,1055 l10,-7 l10,7" stroke="#333" stroke-width="1.6" fill="none" opacity="0.5"/>
<rect x="1441" y="774" width="49" height="35" rx="7" fill="#585858"/>
<rect x="1445.5" y="779" width="39" height="25" rx="4" fill="#dedede"/>
<polygon points="1480,806 1496,802 1497,806 1484,810" fill="#222"/>
<rect x="1936" y="772" width="49" height="35" rx="7" fill="#585858"/>
<rect x="1941.5" y="777" width="39" height="25" rx="4" fill="#dedede"/>
<polygon points="1946,804 1930,800 1929,804 1942,808" fill="#222"/>
<path d="M1713,673C1692,673 1668,673.5 1650,674C1632,674.5 1617,675.1 1605,676C1593,676.9 1584.8,677.8 1578,679.5C1571.2,681.2 1568.3,681.9 1564,686C1559.7,690.1 1558,694.2 1552,704C1546,713.8 1536,732 1528,745C1520,758 1510.7,771.2 1504,782C1497.3,792.8 1492.3,801 1488,810C1483.7,819 1481,826.7 1478,836C1475,845.3 1471.8,856 1470,866C1468.2,876 1467.8,886.2 1467.5,896C1467.2,905.8 1467.6,916.3 1468,925C1468.4,933.7 1469,941.2 1470,948C1471,954.8 1472.2,960.5 1474,966C1475.8,971.5 1476.7,978 1481,981C1485.3,984 1489.8,983.4 1500,984C1510.2,984.6 1535,984.4 1542,984.5L1884,984.5C1891,984.4 1915.8,984.6 1926,984C1936.2,983.4 1940.7,984 1945,981C1949.3,978 1950.2,971.5 1952,966C1953.8,960.5 1955,954.8 1956,948C1957,941.2 1957.6,933.7 1958,925C1958.4,916.3 1958.8,905.8 1958.5,896C1958.2,886.2 1957.8,876 1956,866C1954.2,856 1951,845.3 1948,836C1945,826.7 1942.3,819 1938,810C1933.7,801 1928.7,792.8 1922,782C1915.3,771.2 1906,758 1898,745C1890,732 1880,713.8 1874,704C1868,694.2 1866.3,690.1 1862,686C1857.7,681.9 1854.8,681.2 1848,679.5C1841.2,677.8 1833,676.9 1821,676C1809,675.1 1794,674.5 1776,674C1758,673.5 1734,673 1713,673Z" fill="url(#rBodyG)"/>
<g clip-path="url(#rBodyClip)">
<path d="M1460,790L1542,790C1542.7,791.7 1545.3,794 1546,800C1546.7,806 1552,821.2 1546,826C1540,830.8 1516.8,820 1510,829C1503.2,838 1503.3,869.5 1505,880C1506.7,890.5 1514.2,888.2 1520,892C1525.8,895.8 1536.7,901.2 1540,903L1460,903L1460,790Z" fill="#676767" />
<path d="M1966,790L1884,790C1883.3,791.7 1880.7,794 1880,800C1879.3,806 1874,821.2 1880,826C1886,830.8 1909.2,820 1916,829C1922.8,838 1922.7,869.5 1921,880C1919.3,890.5 1911.8,888.2 1906,892C1900.2,895.8 1889.3,901.2 1886,903L1966,903L1966,790Z" fill="#676767" />
<rect x="1460" y="780" width="506" height="125" fill="url(#rSideSh)"/>
<path d="M1460,912C1463.3,910.8 1473.3,906.5 1480,905C1486.7,903.5 1490,903.3 1500,903C1510,902.7 1533.3,903 1540,903L1540,921C1533.3,921.2 1509.7,921 1500,922C1490.3,923 1486.3,924 1482,927C1477.7,930 1477.7,934.5 1474,940C1470.3,945.5 1462.3,956.7 1460,960L1460,912Z" fill="#9e9e9e" />
<path d="M1462,950C1464,948.3 1470.7,943.7 1474,940C1477.3,936.3 1477.7,930.9 1482,928C1486.3,925.1 1490.3,923.7 1500,922.5C1509.7,921.3 1533.3,921.2 1540,921L1540,936C1534.2,936.2 1513.3,936.2 1505,937.5C1496.7,938.8 1493.5,941.1 1490,944C1486.5,946.9 1485.7,950.3 1484,955C1482.3,959.7 1480.7,969.2 1480,972L1462,972L1462,950Z" fill="#141414" />
<path d="M1478,985C1479,980 1482,961.8 1484,955C1486,948.2 1486.5,947.3 1490,944.5C1493.5,941.7 1496.7,939.3 1505,938C1513.3,936.7 1534.2,936.8 1540,936.5L1540,950C1535,950.5 1517,950.5 1510,953C1503,955.5 1500.7,959.7 1498,965C1495.3,970.3 1494.7,981.7 1494,985L1478,985Z" fill="#555555" />
<path d="M1966,912C1962.7,910.8 1952.7,906.5 1946,905C1939.3,903.5 1936,903.3 1926,903C1916,902.7 1892.7,903 1886,903L1886,921C1892.7,921.2 1916.3,921 1926,922C1935.7,923 1939.7,924 1944,927C1948.3,930 1948.3,934.5 1952,940C1955.7,945.5 1963.7,956.7 1966,960L1966,912Z" fill="#9e9e9e" />
<path d="M1964,950C1962,948.3 1955.3,943.7 1952,940C1948.7,936.3 1948.3,930.9 1944,928C1939.7,925.1 1935.7,923.7 1926,922.5C1916.3,921.3 1892.7,921.2 1886,921L1886,936C1891.8,936.2 1912.7,936.2 1921,937.5C1929.3,938.8 1932.5,941.1 1936,944C1939.5,946.9 1940.3,950.3 1942,955C1943.7,959.7 1945.3,969.2 1946,972L1964,972L1964,950Z" fill="#141414" />
<path d="M1948,985C1947,980 1944,961.8 1942,955C1940,948.2 1939.5,947.3 1936,944.5C1932.5,941.7 1929.3,939.3 1921,938C1912.7,936.7 1891.8,936.8 1886,936.5L1886,950C1891,950.5 1909,950.5 1916,953C1923,955.5 1925.3,959.7 1928,965C1930.7,970.3 1931.3,981.7 1932,985L1948,985Z" fill="#555555" />
</g>
<path d="M1562,701C1575,700.6 1614.8,699.1 1640,698.5C1665.2,697.9 1688.7,697.5 1713,697.5C1737.3,697.5 1760.8,697.9 1786,698.5C1811.2,699.1 1851,700.6 1864,701C1866.7,707.5 1874.5,726.3 1880,740C1885.5,753.7 1894.2,775.8 1897,783C1884.2,782.2 1850.7,779.4 1820,778.5C1789.3,777.6 1748.7,777.5 1713,777.5C1677.3,777.5 1636.7,777.4 1606,778.5C1575.3,779.6 1541.8,783.1 1529,784C1531.7,777 1539.5,755.8 1545,742C1550.5,728.2 1559.2,707.8 1562,701Z" fill="#e4e4e4" stroke="#2a2a2a" stroke-width="3"/>
<g clip-path="url(#rGlassClip)">
<polygon points="1520,795 1560,700 1578,700 1552,790" fill="#8a8a8a" filter="url(#b2)"/>
<polygon points="1906,795 1866,700 1848,700 1879,790" fill="#5e5e5e" filter="url(#b2)"/>
<path d="M1582,786 L1585,752 Q1587,743 1596,743 L1644,743 Q1653,743 1655,752 L1658,786 Z" fill="url(#rHead)"/>
<path d="M1768,786 L1771,752 Q1773,743 1782,743 L1830,743 Q1839,743 1841,752 L1844,786 Z" fill="url(#rHead)"/>
<rect x="1687" y="706" width="54" height="20" rx="8" fill="#555"/>
<rect x="1540" y="772" width="346" height="14" fill="#d0d0d0" opacity="0.8" filter="url(#b2)"/>
</g>
<path d="M1536,784C1547.7,783.2 1576.5,780.4 1606,779.5C1635.5,778.6 1677.3,778.5 1713,778.5C1748.7,778.5 1790.5,778.8 1820,779.5C1849.5,780.2 1878.3,782.4 1890,783L1884,792C1855.5,791.7 1770,789.8 1713,790C1656,790.2 1570.5,792.5 1542,793L1536,784Z" fill="#d8d8d8" filter="url(#b2)"/>
<path d="M1544,796 L1544,828 M1882,796 L1882,828" stroke="#222" stroke-width="1.5" fill="none"/>
<path d="M1546,828 L1880,828" stroke="#2a2a2a" stroke-width="1.5"/>
<path d="M1513,853C1512.8,847.8 1513.2,841.8 1515,838C1516.8,834.2 1515.5,831.4 1524,830C1532.5,828.6 1559,829.6 1566,829.5L1570,876C1562.7,876 1535,877.2 1526,876C1517,874.8 1518.2,872.8 1516,869C1513.8,865.2 1513.2,858.2 1513,853Z" fill="#6a6a6a" stroke="#222" stroke-width="1.4"/>
<path d="M1568,829.5L1620,829.5L1625,876L1572,876L1568,829.5Z" fill="#6a6a6a" stroke="#222" stroke-width="1.4"/>
<polygon points="1514.5,846 1567,846 1568,855.5 1514.5,855.5" fill="#f4f4f4"/>
<polygon points="1571,846 1620.5,846 1621.5,855.5 1572,855.5" fill="#f4f4f4"/>
<path d="M1913,853C1913.2,847.8 1912.8,841.8 1911,838C1909.2,834.2 1910.5,831.4 1902,830C1893.5,828.6 1867,829.6 1860,829.5L1856,876C1863.3,876 1891,877.2 1900,876C1909,874.8 1907.8,872.8 1910,869C1912.2,865.2 1912.8,858.2 1913,853Z" fill="#6a6a6a" stroke="#222" stroke-width="1.4"/>
<path d="M1858,829.5L1806,829.5L1801,876L1854,876L1858,829.5Z" fill="#6a6a6a" stroke="#222" stroke-width="1.4"/>
<polygon points="1911.5,846 1859,846 1858,855.5 1911.5,855.5" fill="#f4f4f4"/>
<polygon points="1855,846 1805.5,846 1804.5,855.5 1854,855.5" fill="#f4f4f4"/>
<rect x="1626" y="829" width="174" height="47" fill="#5a5a5a"/>
<rect x="1630" y="829" width="166" height="43" fill="#e0e0e0"/>
<path d="M1572,877 Q1574,889 1590,890 L1836,890 Q1852,889 1854,877" stroke="#222" stroke-width="1.4" fill="none"/>
</g>

<g id="tex" style="mix-blend-mode:overlay"><rect x="30" y="25" width="1280" height="360" fill="url(#ht)" clip-path="url(#sBodyClip)"/><rect x="1460" y="20" width="504" height="340" fill="url(#ht)" clip-path="url(#fBodyClip)"/><rect x="30" y="630" width="1280" height="490" fill="url(#ht)" clip-path="url(#tBodyClip)"/><rect x="1464" y="670" width="498" height="318" fill="url(#ht)" clip-path="url(#rBodyClip)"/><circle cx="290.5" cy="349.5" r="81" fill="url(#ht)"/><circle cx="1022.5" cy="347.6" r="80.7" fill="url(#ht)"/><rect x="1476" y="356" width="61" height="65" fill="url(#ht)"/><rect x="1886" y="356" width="61" height="65" fill="url(#ht)"/><rect x="1480" y="1011" width="61" height="54" fill="url(#ht)"/><rect x="1884" y="1011" width="61" height="54" fill="url(#ht)"/></g>
<!-- ===== dimension lines ===== -->
<g id="dims">
<!-- ground lines -->
<polygon points="0,424.8 2000,417.6 2000,429.8 0,437" fill="#000"/>
<polygon points="1422,1064.4 2000,1062.2 2000,1074.4 1422,1076.6" fill="#000"/>
<!-- side view verticals -->
<line class="ln" x1="34.8" y1="316" x2="35.4" y2="601"/>
<line class="ln" x1="290.2" y1="349" x2="290.8" y2="523"/>
<line class="ln" x1="1023" y1="347" x2="1023.6" y2="520"/>
<line class="ln" x1="1304.2" y1="293" x2="1305" y2="596"/>
<!-- side view horizontals -->
<line class="ln" x1="60" y1="503" x2="270" y2="502.3"/>
<line class="ln" x1="315" y1="502.2" x2="1000" y2="500"/>
<line class="ln" x1="1050" y1="499.9" x2="1280" y2="499.1"/>
<line class="ln" x1="60" y1="579.9" x2="1280" y2="575.9"/>
<use href="#ah" transform="translate(36.5,503.1)"/>
<use href="#ah" transform="translate(289.3,502.3) scale(-1,1)"/>
<use href="#ah" transform="translate(292,502.3)"/>
<use href="#ah" transform="translate(1022,499.9) scale(-1,1)"/>
<use href="#ah" transform="translate(1025,499.9)"/>
<use href="#ah" transform="translate(1303.5,499) scale(-1,1)"/>
<use href="#ah" transform="translate(36.5,580)"/>
<use href="#ah" transform="translate(1303.8,575.8) scale(-1,1)"/>
<text x="161.5" y="490" font-size="51" text-anchor="middle" textLength="73.3" lengthAdjust="spacingAndGlyphs">947</text>
<text x="659" y="486.5" font-size="51" text-anchor="middle" textLength="97" lengthAdjust="spacingAndGlyphs">2700</text>
<text x="1166.5" y="485" font-size="51" text-anchor="middle" textLength="97" lengthAdjust="spacingAndGlyphs">1040</text>
<text x="664" y="564.5" font-size="51" text-anchor="middle" textLength="93.5" lengthAdjust="spacingAndGlyphs">4687</text>
<!-- height 1462 -->
<line class="ln" x1="906" y1="31.2" x2="1399" y2="28.8"/>
<line class="ln" x1="1379" y1="50" x2="1379.6" y2="400"/>
<use href="#ah" transform="translate(1379,31) rotate(90)"/>
<use href="#ah" transform="translate(1379.6,419.5) rotate(-90)"/>
<text transform="translate(1365.4,225.5) rotate(-90)" font-size="51" text-anchor="middle" letter-spacing="-1.4">1462</text>
<!-- front track 1530 -->
<line class="ln" x1="1507" y1="425" x2="1507.4" y2="520"/>
<line class="ln" x1="1920.2" y1="424" x2="1920.6" y2="519"/>
<line class="ln" x1="1530" y1="496.3" x2="1898" y2="495.1"/>
<use href="#ah" transform="translate(1508.5,496.4)"/>
<use href="#ah" transform="translate(1919.5,495) scale(-1,1)"/>
<text x="1715.8" y="482.5" font-size="51" text-anchor="middle" textLength="96.4" lengthAdjust="spacingAndGlyphs">1530</text>
<!-- width 1826 -->
<line class="ln" x1="1062" y1="635" x2="1397" y2="633.6"/>
<line class="ln" x1="1065" y1="1116" x2="1397" y2="1114.6"/>
<line class="ln" x1="1381" y1="655" x2="1381.8" y2="1095"/>
<use href="#ah" transform="translate(1381,635) rotate(90)"/>
<use href="#ah" transform="translate(1381.8,1114) rotate(-90)"/>
<text transform="translate(1368.8,874) rotate(-90)" font-size="51" text-anchor="middle" letter-spacing="-1.7">1826</text>
<!-- rear track 1527 -->
<line class="ln" x1="1511.6" y1="1070" x2="1512" y2="1163"/>
<line class="ln" x1="1919" y1="1069" x2="1919.4" y2="1162"/>
<line class="ln" x1="1535" y1="1140.9" x2="1897" y2="1139.8"/>
<use href="#ah" transform="translate(1513,1141)"/>
<use href="#ah" transform="translate(1918.4,1139.7) scale(-1,1)"/>
<text x="1716" y="1127" font-size="51" text-anchor="middle" textLength="95.3" lengthAdjust="spacingAndGlyphs">1527</text>
<text class="wm" x="1848" y="1156" font-size="13.5" textLength="140" lengthAdjust="spacingAndGlyphs" stroke="#fff" stroke-width="2.2" paint-order="stroke" stroke-linejoin="round">www.the-blueprints.com</text>
</g>
</svg>
</body>
</html>
